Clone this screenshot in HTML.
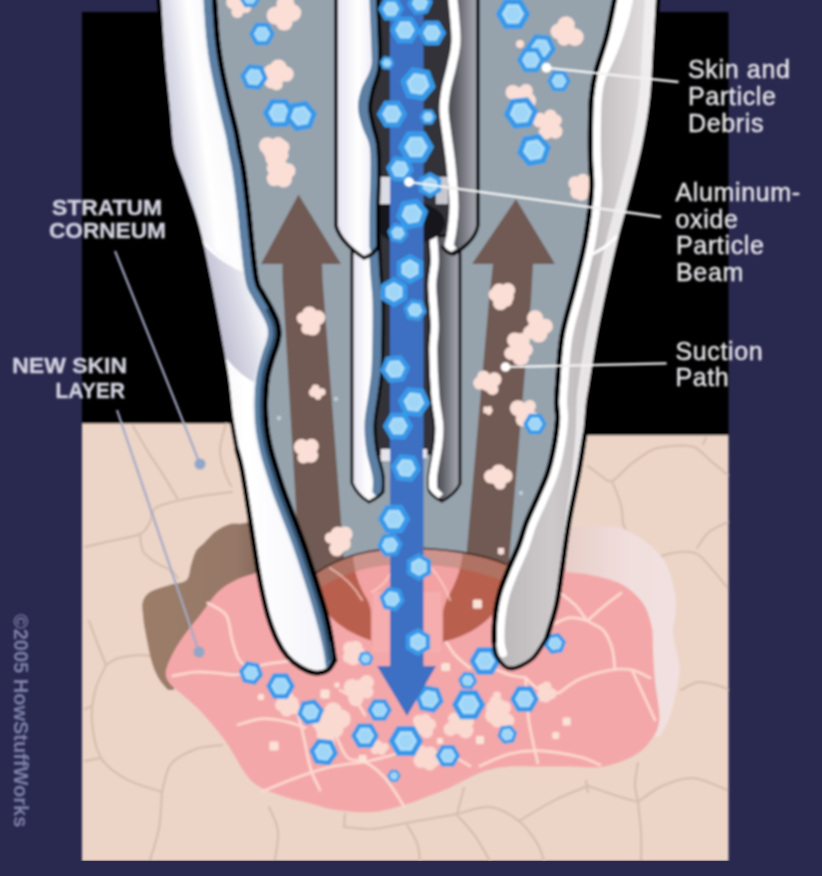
<!DOCTYPE html>
<html lang="en"><head><meta charset="utf-8"><title>Microdermabrasion</title>
<style>
html,body{margin:0;padding:0;background:#29284f;}
body{width:822px;height:876px;overflow:hidden;}
svg{display:block;}
.lab{font-family:"Liberation Sans",sans-serif;font-size:25px;fill:#e4e4e8;letter-spacing:0.65px;stroke:#e4e4e8;stroke-width:0.5px;}
.labl{font-family:"Liberation Sans",sans-serif;font-weight:bold;font-size:22.5px;fill:#d2d2e0;stroke:#d2d2e0;stroke-width:0.4px;}
.copy{font-family:"Liberation Sans",sans-serif;font-weight:bold;font-size:20px;fill:#8083aa;}
</style></head><body>
<svg width="822" height="876" viewBox="0 0 822 876">
<defs>
<filter id="soft" x="-5%" y="-5%" width="110%" height="110%"><feGaussianBlur stdDeviation="0.9"/></filter>
<filter id="soft2" x="-5%" y="-5%" width="110%" height="110%"><feGaussianBlur stdDeviation="1.1"/></filter>
<linearGradient id="gLW" x1="0" y1="0" x2="1" y2="0">
<stop offset="0" stop-color="#e9e8f2"/><stop offset="0.5" stop-color="#ffffff"/><stop offset="1" stop-color="#f4f3fa"/></linearGradient>
<linearGradient id="gRW" x1="0" y1="0" x2="1" y2="0">
<stop offset="0" stop-color="#bab6b8"/><stop offset="0.35" stop-color="#cdc9cb"/><stop offset="0.6" stop-color="#bebabc"/><stop offset="0.8" stop-color="#d4d0d2"/><stop offset="1" stop-color="#e6e4e6"/></linearGradient>
<linearGradient id="gSL" x1="0" y1="0" x2="1" y2="0">
<stop offset="0" stop-color="#e4e2f0"/><stop offset="0.5" stop-color="#ffffff"/><stop offset="1" stop-color="#e6e4f2"/></linearGradient>
<linearGradient id="gSR" x1="0" y1="0" x2="1" y2="0">
<stop offset="0" stop-color="#3e3e46"/><stop offset="0.35" stop-color="#5c5c64"/><stop offset="0.8" stop-color="#9698a0"/><stop offset="1" stop-color="#a0a4ae"/></linearGradient>
<linearGradient id="gPale" x1="0" y1="0" x2="1" y2="0">
<stop offset="0" stop-color="#e6cdc6"/><stop offset="0.6" stop-color="#f1dfde"/><stop offset="1" stop-color="#f1e1e0"/></linearGradient>
<linearGradient id="gBrown" x1="0" y1="0" x2="1" y2="0">
<stop offset="0" stop-color="#9c7d68"/><stop offset="0.7" stop-color="#967868"/><stop offset="1" stop-color="#7a6055"/></linearGradient>
<linearGradient id="gLWtop" gradientUnits="userSpaceOnUse" x1="160" y1="100" x2="225" y2="92">
<stop offset="0" stop-color="#c4c4d6"/><stop offset="0.3" stop-color="#dedeea"/><stop offset="0.6" stop-color="#ffffff"/><stop offset="1" stop-color="#ffffff" stop-opacity="0"/></linearGradient>
<linearGradient id="gLWlow" gradientUnits="userSpaceOnUse" x1="210" y1="305" x2="262" y2="292">
<stop offset="0" stop-color="#bcbcd0"/><stop offset="0.55" stop-color="#dcdce8"/><stop offset="1" stop-color="#ffffff"/></linearGradient>
</defs>
<rect x="0" y="0" width="822" height="876" fill="#29284f"/>
<g filter="url(#soft)">

<rect x="82" y="12" width="646.500" height="440" fill="#000"/>
<path d="M82,423.500 L260,423.500 L260,440 L560,440 L560,435.200 L728.500,435.200 L728.500,861 L82,861 Z" fill="#ecd5c7"/>
<path d="M85.0,547.0 C89.2,546.0 100.8,543.2 110.0,541.0 C119.2,538.8 133.3,537.2 140.0,534.0 C146.7,530.8 147.2,526.5 150.0,522.0 C152.8,517.5 149.5,511.2 157.0,507.0 C164.5,502.8 182.5,499.5 195.0,497.0 C207.5,494.5 225.8,492.8 232.0,492.0 " fill="none" stroke="#d9c0b0" stroke-width="2.5" stroke-linecap="round"/>
<path d="M133.0,426.0 C135.8,430.8 145.2,447.2 150.0,455.0 C154.8,462.8 157.5,465.8 162.0,473.0 C166.5,480.2 174.5,493.8 177.0,498.0 " fill="none" stroke="#d9c0b0" stroke-width="2.5" stroke-linecap="round"/>
<path d="M226.0,424.0 C225.0,428.2 220.3,441.3 220.0,449.0 C219.7,456.7 222.2,463.8 224.0,470.0 C225.8,476.2 229.8,483.3 231.0,486.0 " fill="none" stroke="#d9c0b0" stroke-width="2.5" stroke-linecap="round"/>
<path d="M140.0,534.0 C140.5,536.8 140.5,546.3 143.0,551.0 C145.5,555.7 150.5,558.8 155.0,562.0 C159.5,565.2 166.2,567.3 170.0,570.0 C173.8,572.7 176.7,576.7 178.0,578.0 " fill="none" stroke="#d9c0b0" stroke-width="2.5" stroke-linecap="round"/>
<path d="M89.0,621.0 C90.5,625.0 95.2,637.7 98.0,645.0 C100.8,652.3 104.7,661.7 106.0,665.0 " fill="none" stroke="#d9c0b0" stroke-width="2.5" stroke-linecap="round"/>
<path d="M106.0,665.0 C108.2,663.8 113.2,659.7 119.0,658.0 C124.8,656.3 135.8,655.3 141.0,655.0 C146.2,654.7 148.5,655.8 150.0,656.0 " fill="none" stroke="#d9c0b0" stroke-width="2.5" stroke-linecap="round"/>
<path d="M106.0,665.0 C104.2,669.3 97.3,681.5 95.0,691.0 C92.7,700.5 91.0,710.8 92.0,722.0 C93.0,733.2 95.3,748.5 101.0,758.0 C106.7,767.5 115.8,773.3 126.0,779.0 C136.2,784.7 156.0,789.8 162.0,792.0 " fill="none" stroke="#d9c0b0" stroke-width="2.5" stroke-linecap="round"/>
<path d="M162.0,792.0 C163.5,787.3 165.3,771.2 171.0,764.0 C176.7,756.8 187.5,752.2 196.0,749.0 C204.5,745.8 217.7,745.7 222.0,745.0 " fill="none" stroke="#d9c0b0" stroke-width="2.5" stroke-linecap="round"/>
<path d="M162.0,792.0 C161.5,798.0 161.0,816.7 159.0,828.0 C157.0,839.3 151.5,854.7 150.0,860.0 " fill="none" stroke="#d9c0b0" stroke-width="2.5" stroke-linecap="round"/>
<path d="M85.0,709.0 C86.2,708.5 90.8,706.5 92.0,706.0 " fill="none" stroke="#d9c0b0" stroke-width="2.5" stroke-linecap="round"/>
<path d="M85.0,761.0 C87.7,760.5 98.3,758.5 101.0,758.0 " fill="none" stroke="#d9c0b0" stroke-width="2.5" stroke-linecap="round"/>
<path d="M269.0,807.0 C270.5,811.0 277.0,822.2 278.0,831.0 C279.0,839.8 275.5,855.2 275.0,860.0 " fill="none" stroke="#d9c0b0" stroke-width="2.5" stroke-linecap="round"/>
<path d="M588.0,466.0 C590.0,467.5 596.0,472.5 600.0,475.0 C604.0,477.5 607.0,482.7 612.0,481.0 C617.0,479.3 623.3,470.2 630.0,465.0 C636.7,459.8 645.0,453.2 652.0,450.0 C659.0,446.8 665.0,446.5 672.0,446.0 C679.0,445.5 687.3,444.3 694.0,447.0 C700.7,449.7 706.3,457.3 712.0,462.0 C717.7,466.7 725.3,472.8 728.0,475.0 " fill="none" stroke="#d9c0b0" stroke-width="2.5" stroke-linecap="round"/>
<path d="M612.0,481.0 C613.5,485.0 619.0,497.5 621.0,505.0 C623.0,512.5 621.5,518.8 624.0,526.0 C626.5,533.2 634.0,544.3 636.0,548.0 " fill="none" stroke="#d9c0b0" stroke-width="2.5" stroke-linecap="round"/>
<path d="M703.0,444.0 C703.5,443.0 705.5,439.0 706.0,438.0 " fill="none" stroke="#d9c0b0" stroke-width="2.5" stroke-linecap="round"/>
<path d="M658.0,557.0 C661.5,556.2 672.5,552.5 679.0,552.0 C685.5,551.5 691.5,551.2 697.0,554.0 C702.5,556.8 707.0,563.5 712.0,569.0 C717.0,574.5 724.5,584.0 727.0,587.0 " fill="none" stroke="#d9c0b0" stroke-width="2.5" stroke-linecap="round"/>
<path d="M697.0,548.0 C699.0,545.3 703.8,536.3 709.0,532.0 C714.2,527.7 724.8,523.7 728.0,522.0 " fill="none" stroke="#d9c0b0" stroke-width="2.5" stroke-linecap="round"/>
<path d="M681.0,690.0 C684.0,688.7 692.0,682.5 699.0,682.0 C706.0,681.5 718.2,685.7 723.0,687.0 C727.8,688.3 727.2,689.5 728.0,690.0 " fill="none" stroke="#d9c0b0" stroke-width="2.5" stroke-linecap="round"/>
<path d="M638.0,763.0 C637.5,766.5 635.0,777.5 635.0,784.0 C635.0,790.5 637.5,799.0 638.0,802.0 " fill="none" stroke="#d9c0b0" stroke-width="2.5" stroke-linecap="round"/>
<path d="M638.0,802.0 C642.0,799.3 652.8,790.0 662.0,786.0 C671.2,782.0 682.2,777.3 693.0,778.0 C703.8,778.7 721.3,788.0 727.0,790.0 " fill="none" stroke="#d9c0b0" stroke-width="2.5" stroke-linecap="round"/>
<path d="M638.0,802.0 C638.5,807.2 640.5,823.3 641.0,833.0 C641.5,842.7 641.0,855.5 641.0,860.0 " fill="none" stroke="#d9c0b0" stroke-width="2.5" stroke-linecap="round"/>
<path d="M638.0,802.0 C634.0,800.8 622.3,797.7 614.0,795.0 C605.7,792.3 592.3,787.5 588.0,786.0 " fill="none" stroke="#d9c0b0" stroke-width="2.5" stroke-linecap="round"/>
<path d="M586.0,781.0 C586.3,782.8 587.7,790.2 588.0,792.0 " fill="none" stroke="#d9c0b0" stroke-width="2.5" stroke-linecap="round"/>
<path d="M344.0,827.0 C348.8,827.3 362.7,829.7 373.0,829.0 C383.3,828.3 392.0,825.5 406.0,823.0 C420.0,820.5 448.5,815.5 457.0,814.0 " fill="none" stroke="#d9c0b0" stroke-width="2.5" stroke-linecap="round"/>
<path d="M457.0,814.0 C458.2,809.7 462.8,792.3 464.0,788.0 " fill="none" stroke="#d9c0b0" stroke-width="2.5" stroke-linecap="round"/>
<path d="M457.0,814.0 C462.5,812.8 479.7,805.8 490.0,807.0 C500.3,808.2 511.2,815.0 519.0,821.0 C526.8,827.0 532.8,836.3 537.0,843.0 C541.2,849.7 542.8,858.0 544.0,861.0 " fill="none" stroke="#d9c0b0" stroke-width="2.5" stroke-linecap="round"/>
<path d="M519.0,821.0 C525.0,817.5 543.5,805.8 555.0,800.0 C566.5,794.2 582.5,788.3 588.0,786.0 " fill="none" stroke="#d9c0b0" stroke-width="2.5" stroke-linecap="round"/>
<path d="M406.0,823.0 C407.8,826.3 414.7,836.7 417.0,843.0 C419.3,849.3 419.5,858.0 420.0,861.0 " fill="none" stroke="#d9c0b0" stroke-width="2.5" stroke-linecap="round"/>
<path d="M457.0,815.0 C460.0,818.5 469.5,828.3 475.0,836.0 C480.5,843.7 487.5,856.8 490.0,861.0 " fill="none" stroke="#d9c0b0" stroke-width="2.5" stroke-linecap="round"/>
<path d="M344.0,827.0 C344.2,824.8 344.8,816.2 345.0,814.0 " fill="none" stroke="#d9c0b0" stroke-width="2.5" stroke-linecap="round"/>
<path d="M268.0,515.0 C264.2,516.3 251.3,521.5 245.0,523.0 C238.7,524.5 234.8,522.7 230.0,524.0 C225.2,525.3 220.4,527.8 216.0,531.0 C211.6,534.2 206.8,540.2 203.5,543.5 C200.2,546.8 198.1,547.4 196.0,551.0 C193.9,554.6 192.6,560.2 191.0,565.0 C189.4,569.8 190.1,576.7 186.5,580.0 C182.9,583.3 175.6,583.0 169.5,585.0 C163.4,587.0 154.5,589.2 150.0,592.0 C145.5,594.8 143.9,598.2 142.7,602.0 C141.5,605.8 142.6,610.3 143.0,615.0 C143.4,619.7 143.6,622.3 145.0,630.0 C146.4,637.7 149.2,652.8 151.5,661.0 C153.8,669.2 156.2,674.2 159.0,679.0 C161.8,683.8 166.5,688.2 168.0,690.0 L174,690 L175,661 L186,640 L208,615 L240,590 L275,575 Z" fill="url(#gBrown)"/>
<path d="M560.0,526.0 C566.7,526.1 589.8,526.2 600.0,526.5 C610.2,526.8 613.4,525.5 621.0,528.0 C628.6,530.5 638.5,536.4 645.6,541.7 C652.7,547.0 659.2,553.0 663.8,560.0 C668.4,567.0 671.0,575.9 673.0,584.0 C675.0,592.1 676.0,600.4 676.0,608.6 C676.0,616.8 672.5,623.9 673.0,633.0 C673.5,642.1 678.0,656.0 679.0,663.0 C680.0,670.0 679.7,669.0 679.0,675.0 C678.3,681.0 676.4,691.5 674.6,699.0 C672.9,706.5 670.9,713.8 668.5,720.0 C666.1,726.2 661.4,733.3 660.0,736.0 L640,740 L640,600 L560,575 Z" fill="url(#gPale)"/>
<path d="M566.0,572.0 C570.2,572.5 581.8,573.0 591.0,575.0 C600.2,577.0 612.4,579.4 621.0,584.0 C629.6,588.6 637.4,595.4 642.5,602.5 C647.6,609.6 650.0,618.9 651.7,626.8 C653.5,634.7 652.5,641.0 653.0,650.0 C653.5,659.0 653.9,669.3 655.0,681.0 C656.1,692.7 660.2,709.9 659.4,720.0 C658.6,730.1 654.6,735.4 650.0,741.6 C645.4,747.8 640.1,752.8 632.0,757.0 C623.9,761.2 611.8,765.4 601.6,767.0 C591.4,768.6 581.1,766.6 571.0,766.5 C560.9,766.4 551.2,766.5 541.0,766.5 C530.8,766.5 519.3,765.8 510.0,766.5 C500.7,767.2 492.8,768.6 485.0,771.0 C477.2,773.4 469.5,777.9 463.0,781.0 C456.5,784.1 452.5,786.7 446.0,789.5 C439.5,792.3 430.2,795.7 424.0,798.0 C417.8,800.3 417.3,801.2 409.0,803.5 C400.7,805.8 386.2,810.9 374.0,812.0 C361.8,813.1 346.5,811.4 336.0,810.0 C325.5,808.6 320.7,806.4 311.0,803.8 C301.3,801.2 287.9,798.7 277.7,794.6 C267.5,790.5 258.6,788.2 250.0,779.4 C241.4,770.6 233.8,752.9 226.0,742.0 C218.2,731.1 209.8,721.5 203.0,714.0 C196.2,706.5 190.2,701.7 185.0,697.0 C179.8,692.3 175.2,689.5 172.0,686.0 C168.8,682.5 166.7,679.7 166.0,676.0 C165.3,672.3 166.2,669.0 168.0,664.0 C169.8,659.0 173.5,651.8 177.0,646.0 C180.5,640.2 185.0,634.3 189.0,629.0 C193.0,623.7 196.2,620.2 201.0,614.0 C205.8,607.8 212.2,597.7 218.0,592.0 C223.8,586.3 229.7,583.2 236.0,580.0 C242.3,576.8 252.7,574.2 256.0,573.0 L256,540 L566,540 Z" fill="#f4a7a9"/>
<path d="M207.7,603.0 C210.8,605.0 221.9,608.9 226.0,615.0 C230.1,621.1 230.0,632.4 232.0,639.5 C234.0,646.6 236.0,653.5 238.0,657.8 C240.0,662.0 241.7,662.6 244.0,665.0 C246.3,667.4 250.7,670.8 252.0,672.0 " fill="none" stroke="#fcd9d0" stroke-width="2.7" stroke-linecap="round"/>
<path d="M172.8,676.0 C176.6,675.3 188.2,672.5 195.6,672.0 C202.9,671.5 209.8,672.6 216.9,673.0 C224.0,673.4 230.4,675.8 238.0,674.5 C245.6,673.2 253.3,667.3 262.5,665.0 C271.7,662.7 287.9,661.5 293.0,660.8 " fill="none" stroke="#fcd9d0" stroke-width="2.7" stroke-linecap="round"/>
<path d="M238.0,724.7 C242.1,723.7 254.4,719.1 262.5,718.6 C270.6,718.1 279.7,720.1 286.8,721.6 C293.9,723.1 302.0,726.7 305.0,727.7 " fill="none" stroke="#fcd9d0" stroke-width="2.7" stroke-linecap="round"/>
<path d="M293.0,700.0 C294.2,703.7 298.0,714.8 300.0,722.0 C302.0,729.2 303.2,735.0 305.0,743.0 C306.8,751.0 308.5,762.2 311.0,770.0 C313.5,777.8 318.5,786.7 320.0,790.0 " fill="none" stroke="#fcd9d0" stroke-width="2.7" stroke-linecap="round"/>
<path d="M262.5,791.6 C267.6,789.5 281.8,783.1 293.0,779.0 C304.2,774.9 318.0,769.8 330.0,767.0 C342.0,764.2 359.2,762.8 365.0,762.0 " fill="none" stroke="#fcd9d0" stroke-width="2.7" stroke-linecap="round"/>
<path d="M330.0,718.0 C331.3,721.7 335.0,733.3 338.0,740.0 C341.0,746.7 343.5,754.3 348.0,758.0 C352.5,761.7 358.8,758.7 365.0,762.0 C371.2,765.3 378.5,770.7 385.0,778.0 C391.5,785.3 400.8,801.3 404.0,806.0 " fill="none" stroke="#fcd9d0" stroke-width="2.7" stroke-linecap="round"/>
<path d="M365.0,762.0 C368.3,761.2 378.3,758.7 385.0,757.0 C391.7,755.3 397.5,752.8 405.0,752.0 C412.5,751.2 421.7,751.0 430.0,752.0 C438.3,753.0 448.3,755.7 455.0,758.0 C461.7,760.3 467.5,764.7 470.0,766.0 " fill="none" stroke="#fcd9d0" stroke-width="2.7" stroke-linecap="round"/>
<path d="M404.0,740.0 C404.7,741.3 406.7,746.0 408.0,748.0 C409.3,750.0 411.3,751.3 412.0,752.0 " fill="none" stroke="#fcd9d0" stroke-width="2.7" stroke-linecap="round"/>
<path d="M560.4,593.0 C562.9,595.1 571.0,600.9 575.6,605.5 C580.2,610.1 583.2,616.6 587.8,620.7 C592.4,624.8 599.0,625.5 603.0,630.0 C607.0,634.5 610.0,641.4 612.0,648.0 C614.0,654.6 614.5,665.8 615.0,669.4 " fill="none" stroke="#fcd9d0" stroke-width="2.7" stroke-linecap="round"/>
<path d="M587.8,620.7 C590.3,618.4 597.5,611.6 603.0,607.0 C608.5,602.4 618.0,595.3 621.0,593.0 " fill="none" stroke="#fcd9d0" stroke-width="2.7" stroke-linecap="round"/>
<path d="M548.0,627.0 C551.6,625.5 562.9,618.8 569.5,617.7 C576.1,616.7 584.8,620.2 587.8,620.7 " fill="none" stroke="#fcd9d0" stroke-width="2.7" stroke-linecap="round"/>
<path d="M559.0,693.0 C562.5,690.7 571.4,682.8 580.0,679.0 C588.6,675.2 602.1,671.5 610.8,670.0 C619.5,668.5 625.5,668.7 632.0,670.0 C638.5,671.3 647.0,676.5 650.0,677.8 " fill="none" stroke="#fcd9d0" stroke-width="2.7" stroke-linecap="round"/>
<path d="M632.0,670.0 C634.0,674.3 640.2,687.7 644.0,696.0 C647.8,704.3 653.2,716.0 655.0,720.0 " fill="none" stroke="#fcd9d0" stroke-width="2.7" stroke-linecap="round"/>
<path d="M525.6,677.8 C526.1,684.8 526.7,705.8 528.7,720.0 C530.7,734.2 536.3,755.8 537.8,763.0 " fill="none" stroke="#fcd9d0" stroke-width="2.7" stroke-linecap="round"/>
<path d="M480.0,766.0 C485.0,764.0 499.8,756.3 510.0,753.8 C520.2,751.3 529.3,750.3 541.0,750.8 C552.7,751.3 570.2,754.6 580.0,757.0 C589.8,759.4 596.7,763.7 600.0,765.0 " fill="none" stroke="#fcd9d0" stroke-width="2.7" stroke-linecap="round"/>
<path d="M525.6,677.8 C528.0,679.8 534.4,687.5 540.0,690.0 C545.6,692.5 555.8,692.5 559.0,693.0 " fill="none" stroke="#fcd9d0" stroke-width="2.7" stroke-linecap="round"/>
<path d="M497.0,670.0 C499.2,670.8 505.2,673.7 510.0,675.0 C514.8,676.3 523.0,677.3 525.6,677.8 " fill="none" stroke="#fcd9d0" stroke-width="2.7" stroke-linecap="round"/>
<path d="M330.0,566.0 C332.5,567.5 340.8,571.8 345.0,575.0 C349.2,578.2 352.5,581.2 355.0,585.0 C357.5,588.8 359.2,595.8 360.0,598.0 " fill="none" stroke="#fcd9d0" stroke-width="2.7" stroke-linecap="round"/>
<path d="M450.0,600.0 C451.3,599.2 454.7,596.7 458.0,595.0 C461.3,593.3 466.3,591.2 470.0,590.0 C473.7,588.8 478.3,588.3 480.0,588.0 " fill="none" stroke="#fcd9d0" stroke-width="2.7" stroke-linecap="round"/>
<path d="M445.0,640.0 C446.7,642.5 450.8,650.3 455.0,655.0 C459.2,659.7 467.5,665.8 470.0,668.0 " fill="none" stroke="#fcd9d0" stroke-width="2.7" stroke-linecap="round"/>
<path d="M340.0,690.0 C342.5,691.7 350.8,695.8 355.0,700.0 C359.2,704.2 363.3,712.5 365.0,715.0 " fill="none" stroke="#fcd9d0" stroke-width="2.7" stroke-linecap="round"/>
<path d="M187,-6 L203,130 L237,292 L246,425 L275,520 L296,588 L316,573 C345,553 380,548 407,548 C440,548 480,553 506,564 L530,580 L545,538 L571,435 L591,292 L615,150 L642,-6 Z" fill="#96a3ad"/>
<path d="M298.5,194.5 L341,264 L322,264 L322.6,280 L345.5,580 L301,592 L282.5,280 L282.5,264 L261,264 Z" fill="#6f5a53"/>
<path d="M516,199 L555,264 L533,264 L531,300 L508,572 L466,560 L489,300 L493,264 L472,264 Z" fill="#6f5a53"/>
<path d="M316,573 C345,553 380,548 407,548 C440,548 480,553 506,564 C512,590 500,615 470,632 C450,642 430,646 410,646 C385,646 360,640 340,625 C320,610 312,590 316,573 Z" fill="#b8604d"/>
<path d="M353,556 C354,570 358,585 367,599 C370,605 371,610 371,614 L371,646 L443,646 L443,612 C444,606 446,602 447,599 C455,585 461,570 463,553 C440,548 380,548 353,556 Z" fill="#f3a2a3"/>
<rect x="373" y="592" width="68" height="60" fill="#f6adad"/>
<path d="M312,576 C345,553 380,548 407,548 C440,548 480,553 510,568 L510,584 C480,570 440,564 407,564 C380,564 345,570 314,592 Z" fill="#a88478" opacity="0.5"/>
<path d="M316,573 C345,553 380,548 407,548 C440,548 480,553 506,564" fill="none" stroke="#3a2622" stroke-width="1.6"/>
<path d="M420,556 C435,570 445,585 450,600" fill="none" stroke="#fbd3cb" stroke-width="2" stroke-linecap="round" opacity="0.7"/>
<path d="M330,568 C345,577 355,587 362,600" fill="none" stroke="#fbd3cb" stroke-width="2" stroke-linecap="round" opacity="0.7"/>
<path d="M395,560 C392,575 385,585 372,592" fill="none" stroke="#fbd3cb" stroke-width="2" stroke-linecap="round" opacity="0.7"/>
<circle cx="355.5" cy="647.5" r="6.8" fill="#fad9d0"/><circle cx="359.4" cy="652.1" r="5.2" fill="#fad9d0"/><circle cx="361.3" cy="656.9" r="6.6" fill="#fad9d0"/><circle cx="353.2" cy="658.5" r="6.7" fill="#fad9d0"/><circle cx="349.1" cy="657.2" r="6.2" fill="#fad9d0"/><circle cx="349.7" cy="648.1" r="6.6" fill="#fad9d0"/><circle cx="354" cy="653" r="7.8" fill="#fad9d0"/>
<circle cx="355.9" cy="698.6" r="7.6" fill="#fad9d0"/><circle cx="351.7" cy="687.2" r="8.1" fill="#fad9d0"/><circle cx="366.7" cy="682.3" r="7.2" fill="#fad9d0"/><circle cx="367.0" cy="692.0" r="6.5" fill="#fad9d0"/><circle cx="360" cy="689" r="9.6" fill="#fad9d0"/>
<circle cx="288.2" cy="697.9" r="6.0" fill="#fad9d0"/><circle cx="293.4" cy="701.7" r="4.9" fill="#fad9d0"/><circle cx="293.7" cy="707.8" r="6.4" fill="#fad9d0"/><circle cx="286.6" cy="710.2" r="6.4" fill="#fad9d0"/><circle cx="280.9" cy="705.1" r="5.9" fill="#fad9d0"/><circle cx="283.1" cy="700.0" r="5.9" fill="#fad9d0"/><circle cx="288" cy="703" r="7.2" fill="#fad9d0"/>
<circle cx="324.0" cy="727.6" r="8.8" fill="#fad9d0"/><circle cx="320.5" cy="720.6" r="9.4" fill="#fad9d0"/><circle cx="333.2" cy="711.2" r="8.9" fill="#fad9d0"/><circle cx="341.5" cy="718.9" r="9.3" fill="#fad9d0"/><circle cx="335.3" cy="729.5" r="8.2" fill="#fad9d0"/><circle cx="331" cy="722" r="10.2" fill="#fad9d0"/>
<circle cx="330.5" cy="740.1" r="4.4" fill="#fad9d0"/><circle cx="330.6" cy="744.5" r="4.6" fill="#fad9d0"/><circle cx="323.5" cy="744.5" r="5.6" fill="#fad9d0"/><circle cx="321.4" cy="735.4" r="4.6" fill="#fad9d0"/><circle cx="325.2" cy="734.9" r="5.1" fill="#fad9d0"/><circle cx="326" cy="740" r="6.0" fill="#fad9d0"/>
<circle cx="430.2" cy="724.4" r="5.9" fill="#fad9d0"/><circle cx="426.7" cy="731.8" r="6.4" fill="#fad9d0"/><circle cx="417.8" cy="729.7" r="5.8" fill="#fad9d0"/><circle cx="419.0" cy="720.7" r="6.0" fill="#fad9d0"/><circle cx="425.4" cy="719.3" r="5.5" fill="#fad9d0"/><circle cx="424" cy="725" r="7.8" fill="#fad9d0"/>
<circle cx="421.0" cy="760.5" r="7.5" fill="#fad9d0"/><circle cx="422.0" cy="752.0" r="6.4" fill="#fad9d0"/><circle cx="430.4" cy="752.5" r="6.1" fill="#fad9d0"/><circle cx="434.4" cy="758.6" r="7.5" fill="#fad9d0"/><circle cx="429.8" cy="763.4" r="7.0" fill="#fad9d0"/><circle cx="427" cy="757" r="7.8" fill="#fad9d0"/>
<circle cx="465.6" cy="730.6" r="7.8" fill="#fad9d0"/><circle cx="450.4" cy="729.3" r="6.8" fill="#fad9d0"/><circle cx="454.4" cy="719.0" r="6.4" fill="#fad9d0"/><circle cx="465.7" cy="720.8" r="8.4" fill="#fad9d0"/><circle cx="458" cy="725" r="9.0" fill="#fad9d0"/>
<circle cx="504.3" cy="707.8" r="6.7" fill="#fad9d0"/><circle cx="507.7" cy="720.4" r="6.7" fill="#fad9d0"/><circle cx="497.3" cy="721.0" r="6.5" fill="#fad9d0"/><circle cx="493.2" cy="715.3" r="8.2" fill="#fad9d0"/><circle cx="494.7" cy="708.1" r="8.5" fill="#fad9d0"/><circle cx="500" cy="715" r="9.0" fill="#fad9d0"/>
<circle cx="551.0" cy="693.6" r="5.7" fill="#fad9d0"/><circle cx="545.8" cy="696.7" r="5.7" fill="#fad9d0"/><circle cx="542.5" cy="695.7" r="6.1" fill="#fad9d0"/><circle cx="542.5" cy="688.8" r="5.1" fill="#fad9d0"/><circle cx="546.5" cy="686.5" r="4.9" fill="#fad9d0"/><circle cx="546" cy="692" r="6.6" fill="#fad9d0"/>
<circle cx="493.6" cy="699.8" r="3.4" fill="#fad9d0"/><circle cx="497.0" cy="695.5" r="4.0" fill="#fad9d0"/><circle cx="500.1" cy="702.0" r="3.3" fill="#fad9d0"/><circle cx="497.0" cy="703.8" r="3.0" fill="#fad9d0"/><circle cx="497" cy="700" r="4.2" fill="#fad9d0"/>
<circle cx="381.8" cy="751.0" r="3.9" fill="#fad9d0"/><circle cx="375.2" cy="749.7" r="4.5" fill="#fad9d0"/><circle cx="377.8" cy="744.4" r="4.2" fill="#fad9d0"/><circle cx="384.6" cy="747.1" r="4.2" fill="#fad9d0"/><circle cx="380" cy="748" r="4.8" fill="#fad9d0"/>
<rect x="258" y="694" width="6" height="6" rx="1.5" fill="#fbe2d8"/>
<rect x="269.5" y="741.5" width="9.0" height="9.0" rx="1.5" fill="#fbe2d8"/>
<rect x="320.5" y="689.5" width="9.0" height="9.0" rx="1.5" fill="#fbe2d8"/>
<rect x="358.6" y="755" width="8" height="8" rx="1.5" fill="#fbe2d8"/>
<rect x="334.5" y="682.5" width="5.0" height="5.0" rx="1.5" fill="#fbe2d8"/>
<rect x="472.9" y="599.5" width="9.0" height="9.0" rx="1.5" fill="#fbe2d8"/>
<rect x="562.7" y="717.5" width="8" height="8" rx="1.5" fill="#fbe2d8"/>
<rect x="552.2" y="731.9" width="7.0" height="7.0" rx="1.5" fill="#fbe2d8"/>
<rect x="476" y="736" width="8" height="8" rx="1.5" fill="#fbe2d8"/>
<rect x="437" y="738" width="6" height="6" rx="1.5" fill="#fbe2d8"/>
<rect x="442" y="663" width="8" height="8" rx="1.5" fill="#fbe2d8"/>
<rect x="441.1" y="663.5" width="7.0" height="7.0" rx="1.5" fill="#fbe2d8"/>
<polygon points="262.4,675.0 255.0,683.9 243.6,681.8 239.6,671.0 247.0,662.1 258.4,664.2" fill="#3497e9" stroke="#3a9deb" stroke-width="1.5" stroke-linejoin="round"/><polygon points="258.7,674.4 253.7,680.4 246.0,679.0 243.3,671.6 248.3,665.6 256.0,667.0" fill="#b4e1fa" stroke="#6cbbf2" stroke-width="1" stroke-linejoin="round"/><polygon points="256.7,674.0 253.0,678.4 247.3,677.4 245.3,672.0 249.0,667.6 254.7,668.6" fill="#9fd5f6"/>
<polygon points="294.2,686.0 287.4,697.9 273.6,697.9 266.8,686.0 273.6,674.1 287.4,674.1" fill="#3497e9" stroke="#3a9deb" stroke-width="1.5" stroke-linejoin="round"/><polygon points="289.9,686.0 285.2,694.1 275.8,694.1 271.1,686.0 275.8,677.9 285.2,677.9" fill="#b4e1fa" stroke="#6cbbf2" stroke-width="1" stroke-linejoin="round"/><polygon points="287.4,686.0 283.9,692.0 277.1,692.0 273.6,686.0 277.1,680.0 283.9,680.0" fill="#9fd5f6"/>
<polygon points="323.0,709.8 318.6,721.7 306.2,723.9 298.0,714.2 302.4,702.3 314.8,700.1" fill="#3497e9" stroke="#3a9deb" stroke-width="1.5" stroke-linejoin="round"/><polygon points="319.0,710.5 316.0,718.6 307.6,720.1 302.0,713.5 305.0,705.4 313.4,703.9" fill="#b4e1fa" stroke="#6cbbf2" stroke-width="1" stroke-linejoin="round"/><polygon points="316.7,710.9 314.6,716.8 308.3,717.9 304.3,713.1 306.4,707.2 312.7,706.1" fill="#9fd5f6"/>
<polygon points="378.2,735.6 371.6,747.0 358.4,747.0 351.8,735.6 358.4,724.2 371.6,724.2" fill="#3497e9" stroke="#3a9deb" stroke-width="1.5" stroke-linejoin="round"/><polygon points="374.0,735.6 369.5,743.4 360.5,743.4 356.0,735.6 360.5,727.8 369.5,727.8" fill="#b4e1fa" stroke="#6cbbf2" stroke-width="1" stroke-linejoin="round"/><polygon points="371.6,735.6 368.3,741.3 361.7,741.3 358.4,735.6 361.7,729.9 368.3,729.9" fill="#9fd5f6"/>
<polygon points="391.1,710.0 385.3,720.0 373.7,720.0 367.9,710.0 373.7,700.0 385.3,700.0" fill="#3497e9" stroke="#3a9deb" stroke-width="1.5" stroke-linejoin="round"/><polygon points="387.4,710.0 383.4,716.8 375.6,716.8 371.6,710.0 375.6,703.2 383.4,703.2" fill="#b4e1fa" stroke="#6cbbf2" stroke-width="1" stroke-linejoin="round"/><polygon points="385.3,710.0 382.4,715.0 376.6,715.0 373.7,710.0 376.6,705.0 382.4,705.0" fill="#9fd5f6"/>
<polygon points="422.3,741.0 414.1,755.3 397.6,755.3 389.3,741.0 397.6,726.7 414.1,726.7" fill="#3497e9" stroke="#3a9deb" stroke-width="1.5" stroke-linejoin="round"/><polygon points="417.0,741.0 411.4,750.7 400.2,750.7 394.6,741.0 400.2,731.3 411.4,731.3" fill="#b4e1fa" stroke="#6cbbf2" stroke-width="1" stroke-linejoin="round"/><polygon points="414.1,741.0 409.9,748.1 401.7,748.1 397.6,741.0 401.7,733.9 409.9,733.9" fill="#9fd5f6"/>
<polygon points="443.0,701.4 434.2,711.9 420.7,709.5 416.0,696.6 424.8,686.1 438.3,688.5" fill="#3497e9" stroke="#3a9deb" stroke-width="1.5" stroke-linejoin="round"/><polygon points="438.7,700.6 432.7,707.8 423.5,706.2 420.3,697.4 426.3,690.2 435.5,691.8" fill="#b4e1fa" stroke="#6cbbf2" stroke-width="1" stroke-linejoin="round"/><polygon points="436.3,700.2 431.9,705.5 425.1,704.3 422.7,697.8 427.1,692.5 433.9,693.7" fill="#9fd5f6"/>
<polygon points="484.6,704.6 476.6,718.4 460.6,718.4 452.7,704.6 460.6,690.8 476.6,690.8" fill="#3497e9" stroke="#3a9deb" stroke-width="1.5" stroke-linejoin="round"/><polygon points="479.4,704.6 474.0,714.0 463.2,714.0 457.8,704.6 463.2,695.2 474.0,695.2" fill="#b4e1fa" stroke="#6cbbf2" stroke-width="1" stroke-linejoin="round"/><polygon points="476.6,704.6 472.6,711.5 464.6,711.5 460.6,704.6 464.6,697.7 472.6,697.7" fill="#9fd5f6"/>
<polygon points="476.5,681.5 471.3,688.6 462.5,687.7 458.9,679.7 464.1,672.6 472.9,673.5" fill="#3497e9" stroke="#3a9deb" stroke-width="1.5" stroke-linejoin="round"/><polygon points="473.7,681.2 470.1,686.1 464.2,685.4 461.7,680.0 465.3,675.1 471.2,675.8" fill="#b4e1fa" stroke="#6cbbf2" stroke-width="1" stroke-linejoin="round"/><polygon points="472.1,681.1 469.5,684.6 465.1,684.2 463.3,680.1 465.9,676.6 470.3,677.0" fill="#9fd5f6"/>
<polygon points="499.9,661.0 492.4,673.9 477.6,673.9 470.1,661.0 477.6,648.1 492.4,648.1" fill="#3497e9" stroke="#3a9deb" stroke-width="1.5" stroke-linejoin="round"/><polygon points="495.1,661.0 490.0,669.7 480.0,669.7 474.9,661.0 480.0,652.3 490.0,652.3" fill="#b4e1fa" stroke="#6cbbf2" stroke-width="1" stroke-linejoin="round"/><polygon points="492.4,661.0 488.7,667.4 481.3,667.4 477.6,661.0 481.3,654.6 488.7,654.6" fill="#9fd5f6"/>
<polygon points="538.2,699.0 531.4,710.9 517.6,710.9 510.8,699.0 517.6,687.1 531.4,687.1" fill="#3497e9" stroke="#3a9deb" stroke-width="1.5" stroke-linejoin="round"/><polygon points="533.9,699.0 529.2,707.1 519.8,707.1 515.1,699.0 519.8,690.9 529.2,690.9" fill="#b4e1fa" stroke="#6cbbf2" stroke-width="1" stroke-linejoin="round"/><polygon points="531.4,699.0 527.9,705.0 521.1,705.0 517.6,699.0 521.1,693.0 527.9,693.0" fill="#9fd5f6"/>
<polygon points="516.5,732.9 513.3,741.7 504.1,743.3 498.1,736.1 501.3,727.3 510.5,725.7" fill="#3497e9" stroke="#3a9deb" stroke-width="1.5" stroke-linejoin="round"/><polygon points="513.6,733.4 511.4,739.4 505.1,740.5 501.0,735.6 503.2,729.6 509.5,728.5" fill="#b4e1fa" stroke="#6cbbf2" stroke-width="1" stroke-linejoin="round"/><polygon points="511.9,733.7 510.3,738.1 505.7,738.9 502.7,735.3 504.3,730.9 508.9,730.1" fill="#9fd5f6"/>
<polygon points="372.7,657.4 370.3,664.1 363.3,665.3 358.7,659.8 361.1,653.1 368.1,651.9" fill="#3497e9" stroke="#3a9deb" stroke-width="1.5" stroke-linejoin="round"/><polygon points="370.5,657.8 368.8,662.3 364.0,663.2 360.9,659.4 362.6,654.9 367.4,654.0" fill="#b4e1fa" stroke="#6cbbf2" stroke-width="1" stroke-linejoin="round"/><polygon points="369.2,658.0 368.0,661.3 364.5,662.0 362.2,659.2 363.4,655.9 366.9,655.2" fill="#9fd5f6"/>
<polygon points="400.1,775.8 397.0,781.0 391.0,781.0 387.9,775.8 391.0,770.6 397.0,770.6" fill="#3497e9" stroke="#3a9deb" stroke-width="1.5" stroke-linejoin="round"/><polygon points="398.1,775.8 396.1,779.4 391.9,779.4 389.9,775.8 391.9,772.2 396.1,772.2" fill="#b4e1fa" stroke="#6cbbf2" stroke-width="1" stroke-linejoin="round"/><polygon points="397.0,775.8 395.5,778.4 392.5,778.4 391.0,775.8 392.5,773.2 395.5,773.2" fill="#9fd5f6"/>
<polygon points="337.4,753.4 329.3,764.6 315.6,763.1 310.0,750.6 318.1,739.4 331.8,740.9" fill="#3497e9" stroke="#3a9deb" stroke-width="1.5" stroke-linejoin="round"/><polygon points="333.0,753.0 327.5,760.5 318.2,759.6 314.4,751.0 319.9,743.5 329.2,744.4" fill="#b4e1fa" stroke="#6cbbf2" stroke-width="1" stroke-linejoin="round"/><polygon points="330.5,752.7 326.5,758.3 319.7,757.6 316.9,751.3 320.9,745.7 327.7,746.4" fill="#9fd5f6"/>
<polygon points="459.4,755.7 453.6,765.7 442.0,765.7 436.2,755.7 442.0,745.7 453.6,745.7" fill="#3497e9" stroke="#3a9deb" stroke-width="1.5" stroke-linejoin="round"/><polygon points="455.7,755.7 451.7,762.5 443.9,762.5 439.9,755.7 443.9,748.9 451.7,748.9" fill="#b4e1fa" stroke="#6cbbf2" stroke-width="1" stroke-linejoin="round"/><polygon points="453.6,755.7 450.7,760.7 444.9,760.7 442.0,755.7 444.9,750.7 450.7,750.7" fill="#9fd5f6"/>
<polygon points="565.3,641.7 561.7,651.5 551.4,653.3 544.7,645.3 548.3,635.5 558.6,633.7" fill="#3497e9" stroke="#3a9deb" stroke-width="1.5" stroke-linejoin="round"/><polygon points="562.0,642.3 559.6,648.9 552.6,650.2 548.0,644.7 550.4,638.1 557.4,636.8" fill="#b4e1fa" stroke="#6cbbf2" stroke-width="1" stroke-linejoin="round"/><polygon points="560.1,642.6 558.4,647.5 553.2,648.4 549.9,644.4 551.6,639.5 556.8,638.6" fill="#9fd5f6"/>
<circle cx="245.7" cy="7.6" r="5.4" fill="#fbdfd6"/><circle cx="237.3" cy="12.1" r="6.0" fill="#fbdfd6"/><circle cx="233.1" cy="2.4" r="6.9" fill="#fbdfd6"/><circle cx="244.2" cy="0.6" r="5.5" fill="#fbdfd6"/><circle cx="240" cy="6" r="7.8" fill="#fbdfd6"/>
<circle cx="285.5" cy="4.0" r="9.1" fill="#fbdfd6"/><circle cx="292.5" cy="12.8" r="8.7" fill="#fbdfd6"/><circle cx="284.2" cy="22.2" r="8.4" fill="#fbdfd6"/><circle cx="275.8" cy="15.5" r="9.1" fill="#fbdfd6"/><circle cx="285" cy="14" r="9.6" fill="#fbdfd6"/>
<circle cx="272.2" cy="79.9" r="8.7" fill="#fbdfd6"/><circle cx="271.2" cy="72.3" r="7.8" fill="#fbdfd6"/><circle cx="278.4" cy="67.9" r="8.5" fill="#fbdfd6"/><circle cx="286.2" cy="74.1" r="7.6" fill="#fbdfd6"/><circle cx="276.6" cy="84.2" r="6.1" fill="#fbdfd6"/><circle cx="277" cy="75" r="9.0" fill="#fbdfd6"/>
<circle cx="282.2" cy="147.3" r="7.3" fill="#fbdfd6"/><circle cx="282.0" cy="155.3" r="6.5" fill="#fbdfd6"/><circle cx="272.4" cy="158.8" r="7.0" fill="#fbdfd6"/><circle cx="269.1" cy="152.0" r="6.1" fill="#fbdfd6"/><circle cx="267.4" cy="145.6" r="8.4" fill="#fbdfd6"/><circle cx="278.0" cy="144.5" r="7.4" fill="#fbdfd6"/><circle cx="275.5" cy="151" r="9.0" fill="#fbdfd6"/>
<circle cx="274.2" cy="178.6" r="7.5" fill="#fbdfd6"/><circle cx="273.1" cy="168.2" r="6.3" fill="#fbdfd6"/><circle cx="280.6" cy="165.1" r="6.5" fill="#fbdfd6"/><circle cx="288.1" cy="170.7" r="7.4" fill="#fbdfd6"/><circle cx="283.6" cy="179.0" r="8.4" fill="#fbdfd6"/><circle cx="281" cy="173" r="9.0" fill="#fbdfd6"/>
<circle cx="574.9" cy="37.1" r="8.8" fill="#fbdfd6"/><circle cx="564.0" cy="39.2" r="6.6" fill="#fbdfd6"/><circle cx="558.3" cy="31.5" r="7.8" fill="#fbdfd6"/><circle cx="566.1" cy="25.0" r="8.7" fill="#fbdfd6"/><circle cx="566" cy="32" r="9.6" fill="#fbdfd6"/>
<circle cx="512.9" cy="92.3" r="7.4" fill="#fbdfd6"/><circle cx="526.0" cy="90.9" r="6.8" fill="#fbdfd6"/><circle cx="527.9" cy="100.8" r="8.1" fill="#fbdfd6"/><circle cx="517.6" cy="102.0" r="6.8" fill="#fbdfd6"/><circle cx="521" cy="96" r="9.0" fill="#fbdfd6"/>
<circle cx="555.7" cy="120.3" r="6.1" fill="#fbdfd6"/><circle cx="555.3" cy="131.5" r="7.2" fill="#fbdfd6"/><circle cx="545.6" cy="132.6" r="7.0" fill="#fbdfd6"/><circle cx="540.0" cy="120.2" r="7.4" fill="#fbdfd6"/><circle cx="550.5" cy="115.6" r="6.1" fill="#fbdfd6"/><circle cx="549" cy="124" r="9.0" fill="#fbdfd6"/>
<circle cx="589.5" cy="181.9" r="5.9" fill="#fbdfd6"/><circle cx="587.2" cy="188.9" r="7.0" fill="#fbdfd6"/><circle cx="581.6" cy="194.1" r="6.7" fill="#fbdfd6"/><circle cx="577.6" cy="192.0" r="7.3" fill="#fbdfd6"/><circle cx="575.2" cy="183.1" r="6.8" fill="#fbdfd6"/><circle cx="582.9" cy="179.9" r="6.1" fill="#fbdfd6"/><circle cx="582" cy="186" r="7.8" fill="#fbdfd6"/>
<polygon points="259.9,-2.0 254.9,6.6 245.1,6.6 240.1,-2.0 245.0,-10.6 254.9,-10.6" fill="#3497e9" stroke="#3a9deb" stroke-width="1.5" stroke-linejoin="round"/><polygon points="256.7,-2.0 253.4,3.8 246.6,3.8 243.3,-2.0 246.6,-7.8 253.4,-7.8" fill="#b4e1fa" stroke="#6cbbf2" stroke-width="1" stroke-linejoin="round"/><polygon points="254.9,-2.0 252.5,2.3 247.5,2.3 245.1,-2.0 247.5,-6.3 252.5,-6.3" fill="#9fd5f6"/>
<polygon points="274.1,34.0 268.1,44.5 255.9,44.5 249.9,34.0 255.9,23.5 268.1,23.5" fill="#3497e9" stroke="#3a9deb" stroke-width="1.5" stroke-linejoin="round"/><polygon points="270.2,34.0 266.1,41.1 257.9,41.1 253.8,34.0 257.9,26.9 266.1,26.9" fill="#b4e1fa" stroke="#6cbbf2" stroke-width="1" stroke-linejoin="round"/><polygon points="268.1,34.0 265.0,39.2 259.0,39.2 255.9,34.0 259.0,28.8 265.0,28.8" fill="#9fd5f6"/>
<polygon points="267.1,78.4 259.4,89.1 246.2,87.7 240.9,75.6 248.6,64.9 261.8,66.3" fill="#3497e9" stroke="#3a9deb" stroke-width="1.5" stroke-linejoin="round"/><polygon points="262.9,77.9 257.7,85.2 248.7,84.3 245.1,76.1 250.3,68.8 259.3,69.7" fill="#b4e1fa" stroke="#6cbbf2" stroke-width="1" stroke-linejoin="round"/><polygon points="260.6,77.7 256.7,83.0 250.1,82.3 247.4,76.3 251.3,71.0 257.9,71.7" fill="#9fd5f6"/>
<polygon points="294.4,113.0 286.7,126.3 271.3,126.3 263.6,113.0 271.3,99.7 286.7,99.7" fill="#3497e9" stroke="#3a9deb" stroke-width="1.5" stroke-linejoin="round"/><polygon points="289.5,113.0 284.2,122.1 273.8,122.1 268.5,113.0 273.8,103.9 284.2,103.9" fill="#b4e1fa" stroke="#6cbbf2" stroke-width="1" stroke-linejoin="round"/><polygon points="286.7,113.0 282.9,119.7 275.1,119.7 271.3,113.0 275.1,106.3 282.9,106.3" fill="#9fd5f6"/>
<polygon points="316.2,113.3 310.9,127.8 295.7,130.5 285.8,118.7 291.1,104.2 306.3,101.5" fill="#3497e9" stroke="#3a9deb" stroke-width="1.5" stroke-linejoin="round"/><polygon points="311.3,114.2 307.7,124.0 297.4,125.8 290.7,117.8 294.3,108.0 304.6,106.2" fill="#b4e1fa" stroke="#6cbbf2" stroke-width="1" stroke-linejoin="round"/><polygon points="308.6,114.7 305.9,121.9 298.4,123.2 293.4,117.3 296.1,110.1 303.6,108.8" fill="#9fd5f6"/>
<polygon points="529.5,14.0 521.2,28.3 504.8,28.3 496.5,14.0 504.8,-0.3 521.2,-0.3" fill="#3497e9" stroke="#3a9deb" stroke-width="1.5" stroke-linejoin="round"/><polygon points="524.2,14.0 518.6,23.7 507.4,23.7 501.8,14.0 507.4,4.3 518.6,4.3" fill="#b4e1fa" stroke="#6cbbf2" stroke-width="1" stroke-linejoin="round"/><polygon points="521.2,14.0 517.1,21.1 508.9,21.1 504.8,14.0 508.9,6.9 517.1,6.9" fill="#9fd5f6"/>
<polygon points="555.2,49.5 546.8,61.1 532.6,59.6 526.8,46.5 535.2,34.9 549.4,36.4" fill="#3497e9" stroke="#3a9deb" stroke-width="1.5" stroke-linejoin="round"/><polygon points="550.7,49.0 545.0,56.9 535.3,55.9 531.3,47.0 537.0,39.1 546.7,40.1" fill="#b4e1fa" stroke="#6cbbf2" stroke-width="1" stroke-linejoin="round"/><polygon points="548.1,48.7 543.9,54.5 536.8,53.8 533.9,47.3 538.1,41.5 545.2,42.2" fill="#9fd5f6"/>
<polygon points="544.2,60.0 537.6,71.4 524.4,71.4 517.8,60.0 524.4,48.6 537.6,48.6" fill="#3497e9" stroke="#3a9deb" stroke-width="1.5" stroke-linejoin="round"/><polygon points="540.0,60.0 535.5,67.8 526.5,67.8 522.0,60.0 526.5,52.2 535.5,52.2" fill="#b4e1fa" stroke="#6cbbf2" stroke-width="1" stroke-linejoin="round"/><polygon points="537.6,60.0 534.3,65.7 527.7,65.7 524.4,60.0 527.7,54.3 534.3,54.3" fill="#9fd5f6"/>
<polygon points="570.0,81.0 564.5,90.5 553.5,90.5 548.0,81.0 553.5,71.5 564.5,71.5" fill="#3497e9" stroke="#3a9deb" stroke-width="1.5" stroke-linejoin="round"/><polygon points="566.5,81.0 562.7,87.5 555.3,87.5 551.5,81.0 555.3,74.5 562.7,74.5" fill="#b4e1fa" stroke="#6cbbf2" stroke-width="1" stroke-linejoin="round"/><polygon points="564.5,81.0 561.8,85.8 556.2,85.8 553.5,81.0 556.2,76.2 561.8,76.2" fill="#9fd5f6"/>
<polygon points="537.4,111.3 530.7,126.3 514.3,128.1 504.6,114.7 511.3,99.7 527.7,97.9" fill="#3497e9" stroke="#3a9deb" stroke-width="1.5" stroke-linejoin="round"/><polygon points="532.2,111.8 527.6,122.1 516.4,123.2 509.8,114.2 514.4,103.9 525.6,102.8" fill="#b4e1fa" stroke="#6cbbf2" stroke-width="1" stroke-linejoin="round"/><polygon points="529.2,112.1 525.8,119.7 517.6,120.5 512.8,113.9 516.2,106.3 524.4,105.5" fill="#9fd5f6"/>
<polygon points="550.2,147.1 544.6,162.6 528.4,165.5 517.8,152.9 523.4,137.4 539.6,134.5" fill="#3497e9" stroke="#3a9deb" stroke-width="1.5" stroke-linejoin="round"/><polygon points="545.0,148.1 541.2,158.6 530.2,160.5 523.0,151.9 526.8,141.4 537.8,139.5" fill="#b4e1fa" stroke="#6cbbf2" stroke-width="1" stroke-linejoin="round"/><polygon points="542.1,148.6 539.3,156.3 531.2,157.8 525.9,151.4 528.7,143.7 536.8,142.2" fill="#9fd5f6"/>
<circle cx="520" cy="44" r="4" fill="#fbdfd6"/>
<circle cx="302.4" cy="318.1" r="5.8" fill="#fbdfd6"/><circle cx="309.5" cy="313.7" r="7.2" fill="#fbdfd6"/><circle cx="317.8" cy="317.7" r="7.4" fill="#fbdfd6"/><circle cx="312.5" cy="327.8" r="7.7" fill="#fbdfd6"/><circle cx="306.9" cy="328.7" r="5.7" fill="#fbdfd6"/><circle cx="310" cy="322" r="8.4" fill="#fbdfd6"/>
<circle cx="313.4" cy="392.5" r="4.5" fill="#fbdfd6"/><circle cx="315.5" cy="388.7" r="4.1" fill="#fbdfd6"/><circle cx="321.8" cy="392.0" r="3.8" fill="#fbdfd6"/><circle cx="318.0" cy="396.4" r="3.3" fill="#fbdfd6"/><circle cx="317" cy="393" r="4.8" fill="#fbdfd6"/>
<circle cx="301.6" cy="446.9" r="7.8" fill="#fbdfd6"/><circle cx="311.6" cy="446.0" r="7.2" fill="#fbdfd6"/><circle cx="310.7" cy="455.2" r="7.5" fill="#fbdfd6"/><circle cx="303.4" cy="457.5" r="6.0" fill="#fbdfd6"/><circle cx="307" cy="450" r="8.4" fill="#fbdfd6"/>
<circle cx="343.5" cy="543.9" r="7.3" fill="#fbdfd6"/><circle cx="336.8" cy="548.6" r="7.6" fill="#fbdfd6"/><circle cx="330.5" cy="537.9" r="5.7" fill="#fbdfd6"/><circle cx="337.9" cy="533.9" r="7.2" fill="#fbdfd6"/><circle cx="345.0" cy="534.0" r="7.6" fill="#fbdfd6"/><circle cx="338" cy="540" r="8.4" fill="#fbdfd6"/>
<circle cx="500.4" cy="302.7" r="7.4" fill="#fbdfd6"/><circle cx="495.1" cy="294.6" r="6.5" fill="#fbdfd6"/><circle cx="499.1" cy="290.9" r="7.4" fill="#fbdfd6"/><circle cx="507.8" cy="290.3" r="7.3" fill="#fbdfd6"/><circle cx="508.5" cy="297.1" r="5.4" fill="#fbdfd6"/><circle cx="507.0" cy="301.3" r="5.3" fill="#fbdfd6"/><circle cx="503" cy="296" r="7.8" fill="#fbdfd6"/>
<circle cx="535.1" cy="318.3" r="8.1" fill="#fbdfd6"/><circle cx="545.4" cy="326.2" r="7.5" fill="#fbdfd6"/><circle cx="538.8" cy="334.0" r="8.6" fill="#fbdfd6"/><circle cx="529.9" cy="332.3" r="6.8" fill="#fbdfd6"/><circle cx="537" cy="327" r="9.0" fill="#fbdfd6"/>
<circle cx="521.6" cy="341.2" r="8.2" fill="#fbdfd6"/><circle cx="526.7" cy="349.7" r="6.3" fill="#fbdfd6"/><circle cx="520.7" cy="357.6" r="8.3" fill="#fbdfd6"/><circle cx="510.8" cy="353.3" r="6.6" fill="#fbdfd6"/><circle cx="514.7" cy="340.1" r="7.7" fill="#fbdfd6"/><circle cx="519" cy="348" r="9.0" fill="#fbdfd6"/>
<circle cx="483.5" cy="376.8" r="6.3" fill="#fbdfd6"/><circle cx="494.4" cy="379.4" r="7.1" fill="#fbdfd6"/><circle cx="492.5" cy="389.2" r="5.9" fill="#fbdfd6"/><circle cx="479.7" cy="383.1" r="6.5" fill="#fbdfd6"/><circle cx="488" cy="383" r="8.4" fill="#fbdfd6"/>
<circle cx="522.8" cy="419.5" r="7.1" fill="#fbdfd6"/><circle cx="518.0" cy="408.3" r="8.1" fill="#fbdfd6"/><circle cx="529.9" cy="406.1" r="6.0" fill="#fbdfd6"/><circle cx="532.7" cy="417.1" r="5.7" fill="#fbdfd6"/><circle cx="526" cy="412" r="8.4" fill="#fbdfd6"/>
<circle cx="491.0" cy="476.5" r="7.0" fill="#fbdfd6"/><circle cx="498.8" cy="471.8" r="7.4" fill="#fbdfd6"/><circle cx="505.7" cy="476.0" r="6.9" fill="#fbdfd6"/><circle cx="500.1" cy="483.8" r="5.8" fill="#fbdfd6"/><circle cx="498" cy="478" r="7.8" fill="#fbdfd6"/>
<circle cx="485.4" cy="408.4" r="2.1" fill="#fbdfd6"/><circle cx="489.7" cy="408.1" r="2.2" fill="#fbdfd6"/><circle cx="490.5" cy="410.5" r="2.2" fill="#fbdfd6"/><circle cx="488.8" cy="412.6" r="2.5" fill="#fbdfd6"/><circle cx="485.3" cy="411.3" r="2.1" fill="#fbdfd6"/><circle cx="488" cy="410" r="3.0" fill="#fbdfd6"/>
<polygon points="546.0,424.0 540.5,433.5 529.5,433.5 524.0,424.0 529.5,414.5 540.5,414.5" fill="#3497e9" stroke="#3a9deb" stroke-width="1.5" stroke-linejoin="round"/><polygon points="542.5,424.0 538.7,430.5 531.3,430.5 527.5,424.0 531.3,417.5 538.7,417.5" fill="#b4e1fa" stroke="#6cbbf2" stroke-width="1" stroke-linejoin="round"/><polygon points="540.5,424.0 537.8,428.8 532.2,428.8 529.5,424.0 532.2,419.2 537.8,419.2" fill="#9fd5f6"/>
<circle cx="279" cy="418" r="2" fill="#c9d3dc"/>
<circle cx="336" cy="399" r="2" fill="#c9d3dc"/>
<circle cx="521" cy="493" r="2" fill="#c9d3dc"/>
<circle cx="501" cy="553" r="2" fill="#c9d3dc"/>
<rect x="498" y="548" width="6" height="6" fill="#fbdfd6"/>
<path d="M159.0,-5.0 C159.0,-4.2 158.3,-10.8 159.0,0.0 C159.7,10.8 161.5,41.7 163.0,60.0 C164.5,78.3 166.5,95.0 168.0,110.0 C169.5,125.0 169.5,137.8 172.0,150.0 C174.5,162.2 179.3,172.0 183.0,183.0 C186.7,194.0 191.2,206.8 194.0,216.0 C196.8,225.2 197.5,227.2 200.0,238.0 C202.5,248.8 206.0,265.8 209.0,281.0 C212.0,296.2 215.1,313.0 218.0,329.0 C220.9,345.0 224.3,362.5 226.5,377.0 C228.7,391.5 229.2,403.8 231.0,416.0 C232.8,428.2 235.2,441.0 237.0,450.0 C238.8,459.0 239.8,458.5 242.0,470.0 C244.2,481.5 247.4,502.8 250.0,519.0 C252.6,535.2 255.5,555.0 257.5,567.0 C259.5,579.0 260.2,582.8 262.0,591.0 C263.8,599.2 265.5,607.8 268.0,616.0 C270.5,624.2 273.8,633.3 277.0,640.0 C280.2,646.7 283.2,651.5 287.0,656.0 C290.8,660.5 295.3,664.2 300.0,667.0 C304.7,669.8 310.3,672.5 315.0,673.0 C319.7,673.5 324.7,672.2 328.0,670.0 C331.3,667.8 333.8,661.7 335.0,660.0 L335.0,660.0 C334.5,656.7 333.3,647.3 332.0,640.0 C330.7,632.7 329.0,624.0 327.0,616.0 C325.0,608.0 322.5,600.2 320.0,592.0 C317.5,583.8 314.7,575.2 312.0,567.0 C309.3,558.8 306.8,551.0 304.0,543.0 C301.2,535.0 298.2,527.3 295.0,519.0 C291.8,510.7 287.7,500.3 285.0,493.0 C282.3,485.7 281.2,482.2 279.0,475.0 C276.8,467.8 273.5,458.2 271.5,450.0 C269.5,441.8 267.9,434.2 267.0,426.0 C266.1,417.8 265.8,409.2 266.0,401.0 C266.2,392.8 266.8,384.2 268.0,377.0 C269.2,369.8 271.4,363.3 273.0,358.0 C274.6,352.7 276.4,349.2 277.5,345.0 C278.6,340.8 279.5,337.0 279.5,333.0 C279.5,329.0 278.9,325.3 277.5,321.0 C276.1,316.7 273.4,311.7 271.0,307.0 C268.6,302.3 265.3,297.5 263.0,293.0 C260.7,288.5 258.8,288.8 257.0,280.0 C255.2,271.2 253.3,251.7 252.0,240.0 C250.7,228.3 250.3,221.7 249.0,210.0 C247.7,198.3 245.5,180.0 244.0,170.0 C242.5,160.0 241.2,156.2 240.0,150.0 C238.8,143.8 238.8,141.3 237.0,133.0 C235.2,124.7 231.5,111.0 229.0,100.0 C226.5,89.0 223.8,77.0 222.0,67.0 C220.2,57.0 219.2,51.2 218.0,40.0 C216.8,28.8 215.5,7.5 215.0,0.0 C214.5,-7.5 215.0,-4.2 215.0,-5.0 Z" fill="url(#gLW)"/>
<path d="M159.0,-5.0 C159.0,-4.2 158.3,-10.8 159.0,0.0 C159.7,10.8 161.5,41.7 163.0,60.0 C164.5,78.3 166.5,95.0 168.0,110.0 C169.5,125.0 169.5,137.8 172.0,150.0 C174.5,162.2 179.3,172.0 183.0,183.0 C186.7,194.0 191.2,206.8 194.0,216.0 C196.8,225.2 199.0,234.3 200.0,238.0 L244,271 L236,200 L225,100 L215,-5 Z" fill="url(#gLWtop)"/>
<path d="M199,236 C210,252 225,264 246,272 L256,290 C262,300 270,312 270,330 C268,350 262,368 258,384 C244,378 232,366 221,352 C215,320 208,280 199,236 Z" fill="url(#gLWlow)"/>
<path d="M200,238 C210,252 225,264 246,272" fill="none" stroke="#fff" stroke-width="2.2"/>
<path d="M215.0,-5.0 C215.0,-4.2 214.5,-7.5 215.0,0.0 C215.5,7.5 216.8,28.8 218.0,40.0 C219.2,51.2 220.2,57.0 222.0,67.0 C223.8,77.0 226.5,89.0 229.0,100.0 C231.5,111.0 235.2,124.7 237.0,133.0 C238.8,141.3 238.8,143.8 240.0,150.0 C241.2,156.2 242.5,160.0 244.0,170.0 C245.5,180.0 247.7,198.3 249.0,210.0 C250.3,221.7 250.7,228.3 252.0,240.0 C253.3,251.7 255.2,271.2 257.0,280.0 C258.8,288.8 260.7,288.5 263.0,293.0 C265.3,297.5 268.6,302.3 271.0,307.0 C273.4,311.7 276.1,316.7 277.5,321.0 C278.9,325.3 279.5,329.0 279.5,333.0 C279.5,337.0 278.6,340.8 277.5,345.0 C276.4,349.2 274.6,352.7 273.0,358.0 C271.4,363.3 269.2,369.8 268.0,377.0 C266.8,384.2 266.2,392.8 266.0,401.0 C265.8,409.2 266.1,417.8 267.0,426.0 C267.9,434.2 269.5,441.8 271.5,450.0 C273.5,458.2 276.8,467.8 279.0,475.0 C281.2,482.2 282.3,485.7 285.0,493.0 C287.7,500.3 291.8,510.7 295.0,519.0 C298.2,527.3 301.2,535.0 304.0,543.0 C306.8,551.0 309.3,558.8 312.0,567.0 C314.7,575.2 317.5,583.8 320.0,592.0 C322.5,600.2 325.0,608.0 327.0,616.0 C329.0,624.0 330.7,632.7 332.0,640.0 C333.3,647.3 334.5,656.7 335.0,660.0 L326.0,668.0 C325.5,664.7 324.7,656.2 323.0,648.0 C321.3,639.8 318.2,627.6 315.8,618.8 C313.5,610.0 311.5,603.4 309.0,595.4 C306.5,587.3 303.7,578.7 301.1,570.6 C298.4,562.5 296.0,554.8 293.2,546.8 C290.4,538.9 287.4,531.4 284.2,523.1 C281.1,514.8 276.9,504.4 274.2,496.9 C271.5,489.5 270.3,485.8 268.0,478.4 C265.7,471.1 262.4,461.3 260.3,452.7 C258.3,444.2 256.5,435.9 255.6,427.3 C254.6,418.6 254.3,409.5 254.5,400.8 C254.7,392.1 255.4,382.8 256.6,375.2 C257.9,367.5 260.4,360.2 262.0,354.7 C263.6,349.2 265.4,345.7 266.4,342.1 C267.4,338.5 268.0,335.9 268.0,333.0 C268.0,330.1 267.8,328.0 266.6,324.6 C265.4,321.1 263.1,316.7 260.8,312.3 C258.5,307.9 255.3,303.3 252.8,298.3 C250.3,293.3 247.8,291.8 245.7,282.3 C243.7,272.8 241.9,253.1 240.6,241.3 C239.2,229.5 238.9,222.9 237.6,211.3 C236.2,199.7 234.1,181.6 232.6,171.7 C231.1,161.8 229.8,158.2 228.7,152.1 C227.6,146.1 227.6,143.7 225.8,135.5 C223.9,127.2 220.3,113.6 217.8,102.5 C215.3,91.5 212.6,79.3 210.7,69.1 C208.8,58.8 207.8,52.6 206.6,41.2 C205.4,29.8 204.0,8.5 203.5,0.8 C203.0,-6.9 203.5,-4.0 203.5,-5.0 Z" fill="#5c7fa3"/>
<path d="M202.5,-5.0 C202.5,-4.0 202.0,-6.9 202.5,0.8 C203.0,8.5 204.4,29.9 205.6,41.3 C206.8,52.7 207.8,59.0 209.7,69.3 C211.6,79.5 214.3,91.7 216.8,102.8 C219.3,113.8 223.0,127.4 224.8,135.7 C226.6,143.9 226.6,146.3 227.7,152.3 C228.9,158.4 230.2,162.0 231.6,171.9 C233.1,181.7 235.3,199.8 236.6,211.4 C237.9,223.0 238.2,229.6 239.6,241.4 C240.9,253.3 242.7,273.0 244.8,282.5 C246.8,292.1 249.4,293.7 251.9,298.8 C254.4,303.8 257.6,308.4 259.9,312.7 C262.2,317.1 264.4,321.5 265.6,324.9 C266.8,328.3 267.0,330.2 267.0,333.0 C267.0,335.8 266.4,338.3 265.4,341.9 C264.4,345.4 262.6,348.9 261.0,354.4 C259.4,360.0 256.9,367.3 255.7,375.0 C254.4,382.7 253.7,392.0 253.5,400.7 C253.3,409.5 253.6,418.7 254.6,427.4 C255.6,436.1 257.3,444.4 259.4,453.0 C261.4,461.5 264.8,471.4 267.1,478.7 C269.4,486.1 270.5,489.8 273.3,497.3 C276.0,504.7 280.2,515.1 283.3,523.4 C286.5,531.8 289.4,539.3 292.2,547.2 C295.0,555.1 297.5,562.8 300.1,570.9 C302.8,579.0 305.6,587.6 308.0,595.7 C310.5,603.7 312.5,610.3 314.9,619.0 C317.2,627.8 320.3,639.8 322.0,648.0 C323.7,656.2 324.5,664.7 325.0,668.0 " fill="none" stroke="#e6ecf4" stroke-width="1.6"/>
<path d="M267.9,308.6 C268.9,310.9 272.8,318.0 274.2,322.1 C275.5,326.2 276.0,329.3 276.0,333.0 C276.0,336.7 275.2,340.1 274.1,344.1 C273.1,348.1 271.2,351.6 269.6,357.0 C268.1,362.4 265.7,369.1 264.5,376.4 C263.4,383.8 262.7,392.6 262.5,400.9 C262.3,409.3 262.6,418.1 263.5,426.4 C264.5,434.7 266.1,442.6 268.1,450.8 C270.1,459.1 273.4,468.8 275.7,476.0 C277.9,483.3 279.0,486.8 281.7,494.2 C284.4,501.6 288.6,511.9 291.7,520.2 C294.9,528.6 297.9,536.2 300.7,544.2 C303.5,552.1 306.0,559.9 308.7,568.1 C311.3,576.2 314.2,584.9 316.7,593.0 C319.1,601.2 321.6,608.9 323.6,616.8 C325.6,624.8 327.2,633.3 328.6,640.6 C329.9,647.9 331.0,657.2 331.5,660.5 " fill="none" stroke="#2c4864" stroke-width="6" opacity="0.8"/>
<path d="M159.0,-5.0 C159.0,-4.2 158.3,-10.8 159.0,0.0 C159.7,10.8 161.5,41.7 163.0,60.0 C164.5,78.3 166.5,95.0 168.0,110.0 C169.5,125.0 169.5,137.8 172.0,150.0 C174.5,162.2 179.3,172.0 183.0,183.0 C186.7,194.0 191.2,206.8 194.0,216.0 C196.8,225.2 197.5,227.2 200.0,238.0 C202.5,248.8 206.0,265.8 209.0,281.0 C212.0,296.2 215.1,313.0 218.0,329.0 C220.9,345.0 224.3,362.5 226.5,377.0 C228.7,391.5 229.2,403.8 231.0,416.0 C232.8,428.2 235.2,441.0 237.0,450.0 C238.8,459.0 239.8,458.5 242.0,470.0 C244.2,481.5 247.4,502.8 250.0,519.0 C252.6,535.2 255.5,555.0 257.5,567.0 C259.5,579.0 260.2,582.8 262.0,591.0 C263.8,599.2 265.5,607.8 268.0,616.0 C270.5,624.2 273.8,633.3 277.0,640.0 C280.2,646.7 283.2,651.5 287.0,656.0 C290.8,660.5 295.3,664.2 300.0,667.0 C304.7,669.8 310.3,672.5 315.0,673.0 C319.7,673.5 324.7,672.2 328.0,670.0 C331.3,667.8 333.8,661.7 335.0,660.0 L335.0,660.0 C334.5,656.7 333.3,647.3 332.0,640.0 C330.7,632.7 329.0,624.0 327.0,616.0 C325.0,608.0 322.5,600.2 320.0,592.0 C317.5,583.8 314.7,575.2 312.0,567.0 C309.3,558.8 306.8,551.0 304.0,543.0 C301.2,535.0 298.2,527.3 295.0,519.0 C291.8,510.7 287.7,500.3 285.0,493.0 C282.3,485.7 281.2,482.2 279.0,475.0 C276.8,467.8 273.5,458.2 271.5,450.0 C269.5,441.8 267.9,434.2 267.0,426.0 C266.1,417.8 265.8,409.2 266.0,401.0 C266.2,392.8 266.8,384.2 268.0,377.0 C269.2,369.8 271.4,363.3 273.0,358.0 C274.6,352.7 276.4,349.2 277.5,345.0 C278.6,340.8 279.5,337.0 279.5,333.0 C279.5,329.0 278.9,325.3 277.5,321.0 C276.1,316.7 273.4,311.7 271.0,307.0 C268.6,302.3 265.3,297.5 263.0,293.0 C260.7,288.5 258.8,288.8 257.0,280.0 C255.2,271.2 253.3,251.7 252.0,240.0 C250.7,228.3 250.3,221.7 249.0,210.0 C247.7,198.3 245.5,180.0 244.0,170.0 C242.5,160.0 241.2,156.2 240.0,150.0 C238.8,143.8 238.8,141.3 237.0,133.0 C235.2,124.7 231.5,111.0 229.0,100.0 C226.5,89.0 223.8,77.0 222.0,67.0 C220.2,57.0 219.2,51.2 218.0,40.0 C216.8,28.8 215.5,7.5 215.0,0.0 C214.5,-7.5 215.0,-4.2 215.0,-5.0 Z" fill="none" stroke="#000" stroke-width="4.2" stroke-linejoin="round"/>
<path d="M214.4,-5.0 C214.4,-4.2 213.9,-7.5 214.4,0.0 C214.9,7.6 216.2,28.9 217.4,40.1 C218.6,51.2 219.6,57.1 221.4,67.1 C223.2,77.1 225.9,89.1 228.4,100.1 C230.9,111.1 234.6,124.8 236.4,133.1 C238.2,141.5 238.2,144.0 239.4,150.1 C240.6,156.3 241.9,160.1 243.4,170.1 C244.9,180.1 247.1,198.4 248.4,210.1 C249.7,221.7 250.1,228.4 251.4,240.1 C252.7,251.7 254.6,271.3 256.4,280.1 C258.3,289.0 260.1,288.8 262.5,293.3 C264.8,297.8 268.1,302.6 270.5,307.3 C272.9,311.9 275.5,316.9 276.9,321.2 C278.3,325.5 278.9,329.1 278.9,333.0 C278.9,336.9 278.0,340.7 276.9,344.8 C275.8,349.0 274.0,352.5 272.4,357.8 C270.8,363.2 268.6,369.7 267.4,376.9 C266.2,384.1 265.6,392.8 265.4,401.0 C265.2,409.2 265.5,417.9 266.4,426.1 C267.3,434.3 268.9,442.0 270.9,450.1 C272.9,458.3 276.2,468.0 278.4,475.2 C280.7,482.4 281.8,485.9 284.4,493.2 C287.1,500.5 291.3,510.9 294.4,519.2 C297.6,527.5 300.6,535.2 303.4,543.2 C306.3,551.2 308.8,559.0 311.4,567.2 C314.1,575.3 316.9,584.0 319.4,592.2 C321.9,600.3 324.4,608.2 326.4,616.1 C328.4,624.1 330.6,636.1 331.4,640.1 " fill="none" stroke="#000" stroke-width="5" stroke-linecap="round"/>
<path d="M615.0,-5.0 C614.8,-4.2 615.5,-7.0 614.0,0.0 C612.5,7.0 609.2,24.8 606.0,37.0 C602.8,49.2 597.5,63.0 595.0,73.0 C592.5,83.0 591.8,88.8 591.0,97.0 C590.2,105.2 590.2,111.5 590.0,122.0 C589.8,132.5 589.8,148.7 590.0,160.0 C590.2,171.3 591.8,176.8 591.0,190.0 C590.2,203.2 587.8,222.8 585.0,239.0 C582.2,255.2 577.9,270.8 574.0,287.0 C570.1,303.2 564.3,319.7 561.5,336.0 C558.7,352.3 557.9,373.8 557.0,385.0 C556.1,396.2 556.0,397.2 556.0,403.0 C556.0,408.8 557.5,412.3 557.0,420.0 C556.5,427.7 554.7,440.2 553.0,449.0 C551.3,457.8 549.7,465.0 547.0,473.0 C544.3,481.0 540.5,488.8 537.0,497.0 C533.5,505.2 529.2,513.8 526.0,522.0 C522.8,530.2 521.0,538.2 518.0,546.0 C515.0,553.8 511.2,561.2 508.0,569.0 C504.8,576.8 501.2,585.0 499.0,593.0 C496.8,601.0 495.4,608.8 494.5,617.0 C493.6,625.2 493.3,635.3 493.7,642.0 C494.1,648.7 494.3,652.6 497.0,657.0 C499.7,661.4 504.2,668.2 510.0,668.5 C515.8,668.8 525.8,664.2 532.0,659.0 C538.2,653.8 544.5,640.7 547.0,637.0 L547.0,637.0 C548.6,631.7 554.0,616.2 556.5,605.0 C559.0,593.8 559.9,583.8 562.0,570.0 C564.1,556.2 566.2,538.2 569.0,522.0 C571.8,505.8 576.0,487.7 578.7,473.0 C581.4,458.3 583.5,445.7 585.0,434.0 C586.5,422.3 587.0,411.2 588.0,403.0 C589.0,394.8 589.2,396.2 591.0,385.0 C592.8,373.8 596.0,352.3 599.0,336.0 C602.0,319.7 605.5,303.2 609.0,287.0 C612.5,270.8 616.2,254.3 620.0,239.0 C623.8,223.7 628.0,210.5 632.0,195.0 C636.0,179.5 640.7,162.3 644.0,146.0 C647.3,129.7 650.2,113.2 652.0,97.0 C653.8,80.8 654.0,65.2 655.0,49.0 C656.0,32.8 657.5,9.0 658.0,0.0 C658.5,-9.0 658.0,-4.2 658.0,-5.0 Z" fill="url(#gRW)"/>
<path d="M658.0,-5.0 C658.0,-4.2 658.5,-9.0 658.0,0.0 C657.5,9.0 656.0,32.8 655.0,49.0 C654.0,65.2 653.8,80.8 652.0,97.0 C650.2,113.2 647.3,129.7 644.0,146.0 C640.7,162.3 636.0,179.5 632.0,195.0 C628.0,210.5 623.8,223.7 620.0,239.0 C616.2,254.3 612.5,270.8 609.0,287.0 C605.5,303.2 602.0,319.7 599.0,336.0 C596.0,352.3 592.8,373.8 591.0,385.0 C589.2,396.2 589.0,394.8 588.0,403.0 C587.0,411.2 586.5,422.3 585.0,434.0 C583.5,445.7 581.4,458.3 578.7,473.0 C576.0,487.7 571.8,505.8 569.0,522.0 C566.2,538.2 564.1,556.2 562.0,570.0 C559.9,583.8 557.4,599.2 556.5,605.0 L556.5,605.0 C557.3,599.2 559.9,583.8 561.4,569.9 C562.8,556.0 563.5,537.7 565.3,521.4 C567.0,505.0 570.1,486.5 571.9,471.8 C573.6,457.0 574.8,444.4 575.6,432.8 C576.4,421.1 576.1,409.9 576.6,401.6 C577.1,393.3 576.9,394.3 578.5,382.9 C580.1,371.6 583.2,350.1 586.2,333.7 C589.2,317.2 592.8,300.6 596.3,284.2 C599.8,267.9 603.5,251.3 607.4,235.8 C611.2,220.4 615.4,207.2 619.4,191.8 C623.4,176.3 628.0,159.4 631.3,143.4 C634.5,127.4 637.3,111.4 639.1,95.5 C640.9,79.7 641.0,64.2 642.0,48.2 C643.0,32.2 644.5,8.1 645.0,-0.7 C645.5,-9.6 645.0,-4.3 645.0,-5.0 Z" fill="#f4f2f3" opacity="0.75"/>
<path d="M621.9,-3.6 C621.7,-2.8 622.4,-5.6 620.8,1.5 C619.3,8.5 615.9,26.6 612.8,38.8 C609.6,51.0 604.3,64.9 601.8,74.7 C599.3,84.5 598.8,89.8 598.0,97.7 C597.2,105.6 597.2,111.7 597.0,122.1 C596.8,132.5 596.8,148.5 597.0,159.9 C597.2,171.3 598.8,177.1 598.0,190.4 C597.1,203.8 594.8,223.8 591.9,240.2 C589.0,256.6 584.7,272.5 580.8,288.6 C576.9,304.8 571.2,321.0 568.4,337.2 C565.6,353.4 564.9,374.6 564.0,385.6 C563.1,396.5 563.0,397.2 563.0,403.0 C563.0,408.8 564.5,412.6 564.0,420.5 C563.5,428.3 561.6,441.2 559.9,450.3 C558.2,459.4 556.4,467.0 553.6,475.2 C550.9,483.5 547.0,491.5 543.4,499.8 C539.9,508.0 535.7,516.4 532.5,524.5 C529.4,532.7 527.5,540.7 524.5,548.5 C521.5,556.4 517.6,563.9 514.5,571.6 C511.4,579.4 507.9,587.2 505.7,594.9 C503.6,602.6 502.3,610.0 501.5,617.8 C500.6,625.5 500.4,635.6 500.7,641.6 C500.9,647.5 502.6,651.4 503.0,653.3 " fill="none" stroke="#ffffff" stroke-width="8" stroke-linecap="round"/>
<path d="M616,-5 L634,-5 C630,20 620,50 607,75 C603,85 600,100 598,120 L594,120 C594,100 596,85 600,72 C608,50 614,20 616,-5 Z" fill="#fff"/>
<path d="M617,236 C608,246 598,252 588,256" fill="none" stroke="#fff" stroke-width="3"/>
<path d="M615.0,-5.0 C614.8,-4.2 615.5,-7.0 614.0,0.0 C612.5,7.0 609.2,24.8 606.0,37.0 C602.8,49.2 597.5,63.0 595.0,73.0 C592.5,83.0 591.8,88.8 591.0,97.0 C590.2,105.2 590.2,111.5 590.0,122.0 C589.8,132.5 589.8,148.7 590.0,160.0 C590.2,171.3 591.8,176.8 591.0,190.0 C590.2,203.2 587.8,222.8 585.0,239.0 C582.2,255.2 577.9,270.8 574.0,287.0 C570.1,303.2 564.3,319.7 561.5,336.0 C558.7,352.3 557.9,373.8 557.0,385.0 C556.1,396.2 556.0,397.2 556.0,403.0 C556.0,408.8 557.5,412.3 557.0,420.0 C556.5,427.7 554.7,440.2 553.0,449.0 C551.3,457.8 549.7,465.0 547.0,473.0 C544.3,481.0 540.5,488.8 537.0,497.0 C533.5,505.2 529.2,513.8 526.0,522.0 C522.8,530.2 521.0,538.2 518.0,546.0 C515.0,553.8 511.2,561.2 508.0,569.0 C504.8,576.8 501.2,585.0 499.0,593.0 C496.8,601.0 495.4,608.8 494.5,617.0 C493.6,625.2 493.3,635.3 493.7,642.0 C494.1,648.7 494.3,652.6 497.0,657.0 C499.7,661.4 504.2,668.2 510.0,668.5 C515.8,668.8 525.8,664.2 532.0,659.0 C538.2,653.8 544.5,640.7 547.0,637.0 L547.0,637.0 C548.6,631.7 554.0,616.2 556.5,605.0 C559.0,593.8 559.9,583.8 562.0,570.0 C564.1,556.2 566.2,538.2 569.0,522.0 C571.8,505.8 576.0,487.7 578.7,473.0 C581.4,458.3 583.5,445.7 585.0,434.0 C586.5,422.3 587.0,411.2 588.0,403.0 C589.0,394.8 589.2,396.2 591.0,385.0 C592.8,373.8 596.0,352.3 599.0,336.0 C602.0,319.7 605.5,303.2 609.0,287.0 C612.5,270.8 616.2,254.3 620.0,239.0 C623.8,223.7 628.0,210.5 632.0,195.0 C636.0,179.5 640.7,162.3 644.0,146.0 C647.3,129.7 650.2,113.2 652.0,97.0 C653.8,80.8 654.0,65.2 655.0,49.0 C656.0,32.8 657.5,9.0 658.0,0.0 C658.5,-9.0 658.0,-4.2 658.0,-5.0 Z" fill="none" stroke="#000" stroke-width="4.2" stroke-linejoin="round"/>
<path d="M615.6,-4.9 C615.4,-4.0 616.1,-6.9 614.6,0.1 C613.1,7.1 609.7,25.0 606.6,37.2 C603.4,49.3 598.1,63.2 595.6,73.1 C593.1,83.1 592.4,88.9 591.6,97.1 C590.8,105.2 590.8,111.5 590.6,122.0 C590.4,132.5 590.4,148.7 590.6,160.0 C590.8,171.3 592.4,176.9 591.6,190.0 C590.8,203.2 588.4,222.9 585.6,239.1 C582.8,255.3 578.5,271.0 574.6,287.1 C570.7,303.3 564.9,319.8 562.1,336.1 C559.3,352.4 558.5,373.9 557.6,385.0 C556.7,396.2 556.6,397.2 556.6,403.0 C556.6,408.8 558.1,412.4 557.6,420.0 C557.1,427.7 555.3,440.3 553.6,449.1 C551.9,458.0 550.2,465.2 547.6,473.2 C544.9,481.2 541.1,489.1 537.6,497.2 C534.0,505.4 529.7,514.1 526.6,522.2 C523.4,530.4 521.6,538.4 518.6,546.2 C515.6,554.0 511.7,561.4 508.6,569.2 C505.4,577.0 501.8,585.2 499.6,593.2 C497.3,601.1 496.0,608.9 495.1,617.1 C494.2,625.2 494.4,637.8 494.3,642.0 " fill="none" stroke="#000" stroke-width="5" stroke-linecap="round"/>
<path d="M547.0,637.0 C548.6,631.7 554.0,616.2 556.5,605.0 C559.0,593.8 559.9,583.8 562.0,570.0 C564.1,556.2 566.2,538.2 569.0,522.0 C571.8,505.8 576.0,487.7 578.7,473.0 C581.4,458.3 584.0,440.5 585.0,434.0 " fill="none" stroke="#000" stroke-width="5" stroke-linecap="round"/>
<path d="M237.0,450.0 C237.8,453.3 239.8,458.5 242.0,470.0 C244.2,481.5 247.4,502.8 250.0,519.0 C252.6,535.2 255.5,555.0 257.5,567.0 C259.5,579.0 260.2,582.8 262.0,591.0 C263.8,599.2 265.5,607.8 268.0,616.0 C270.5,624.2 273.8,633.3 277.0,640.0 C280.2,646.7 283.2,651.5 287.0,656.0 C290.8,660.5 295.3,664.2 300.0,667.0 C304.7,669.8 310.3,672.5 315.0,673.0 C319.7,673.5 324.7,672.2 328.0,670.0 C331.3,667.8 333.8,661.7 335.0,660.0 " fill="none" stroke="#000" stroke-width="5" stroke-linecap="round"/>
<path d="M355,-5 L460,-5 L460,245 L440,250 L440,455 L372,455 L372,250 L355,245 Z" fill="#323238"/>
<path d="M352,236 L352,483 C356,492 362,498 369,502 C375,499 380,496 383,492 L383.0,492.0 C383.0,489.2 384.0,482.0 383.0,475.0 C382.0,468.0 378.3,458.3 377.0,450.0 C375.7,441.7 374.7,434.2 375.0,425.0 C375.3,415.8 377.8,404.2 379.0,395.0 C380.2,385.8 381.3,380.0 382.0,370.0 C382.7,360.0 382.8,346.7 383.0,335.0 C383.2,323.3 383.3,310.0 383.0,300.0 C382.7,290.0 381.5,282.0 381.0,275.0 C380.5,268.0 380.3,264.5 380.0,258.0 C379.7,251.5 379.2,239.7 379.0,236.0 L366,236 Z" fill="url(#gSL)"/>
<path d="M379.0,236.0 C379.2,239.7 379.7,251.5 380.0,258.0 C380.3,264.5 380.5,268.0 381.0,275.0 C381.5,282.0 382.7,290.0 383.0,300.0 C383.3,310.0 383.2,323.3 383.0,335.0 C382.8,346.7 382.7,360.0 382.0,370.0 C381.3,380.0 380.2,385.8 379.0,395.0 C377.8,404.2 375.3,415.8 375.0,425.0 C374.7,434.2 375.7,441.7 377.0,450.0 C378.3,458.3 382.0,468.0 383.0,475.0 C384.0,482.0 383.0,489.2 383.0,492.0 L376,496 L372.5,492.0 C372.5,489.4 373.6,483.2 372.6,476.5 C371.6,469.8 368.0,460.3 366.6,451.7 C365.3,443.0 364.2,434.3 364.5,424.6 C364.8,415.0 367.4,402.9 368.6,393.7 C369.8,384.5 370.9,379.1 371.5,369.3 C372.2,359.5 372.3,346.3 372.5,334.9 C372.7,323.4 372.8,310.2 372.5,300.3 C372.2,290.5 371.0,282.7 370.5,275.7 C370.0,268.8 369.8,265.1 369.5,258.5 C369.2,252.0 368.7,240.2 368.5,236.5 Z" fill="#5c7fa3"/>
<path d="M352,236 L352,483 C356,492 362,498 369,502 C375,499 380,496 383,492 L383.0,492.0 C383.0,489.2 384.0,482.0 383.0,475.0 C382.0,468.0 378.3,458.3 377.0,450.0 C375.7,441.7 374.7,434.2 375.0,425.0 C375.3,415.8 377.8,404.2 379.0,395.0 C380.2,385.8 381.3,380.0 382.0,370.0 C382.7,360.0 382.8,346.7 383.0,335.0 C383.2,323.3 383.3,310.0 383.0,300.0 C382.7,290.0 381.5,282.0 381.0,275.0 C380.5,268.0 380.3,264.5 380.0,258.0 C379.7,251.5 379.2,239.7 379.0,236.0 L366,236 Z" fill="none" stroke="#000" stroke-width="3"/>
<path d="M433.0,236.0 C433.2,240.3 434.7,253.8 434.5,262.0 C434.3,270.2 432.0,274.5 432.0,285.0 C432.0,295.5 434.3,314.2 434.5,325.0 C434.7,335.8 432.9,338.3 433.0,350.0 C433.1,361.7 434.0,382.5 435.0,395.0 C436.0,407.5 438.5,416.7 439.0,425.0 C439.5,433.3 439.0,436.7 438.0,445.0 C437.0,453.3 433.8,467.5 433.0,475.0 C432.2,482.5 433.0,487.5 433.0,490.0 C436,496 439,499 442,501 C450,497 456,492 460,484 L460,236 L452,236 Z" fill="url(#gSR)" stroke="#000" stroke-width="2.5"/>
<path d="M433.0,236.0 C433.2,240.3 434.7,253.8 434.5,262.0 C434.3,270.2 432.0,274.5 432.0,285.0 C432.0,295.5 434.3,314.2 434.5,325.0 C434.7,335.8 432.9,338.3 433.0,350.0 C433.1,361.7 434.0,382.5 435.0,395.0 C436.0,407.5 438.5,416.7 439.0,425.0 C439.5,433.3 439.0,436.7 438.0,445.0 C437.0,453.3 433.8,467.5 433.0,475.0 C432.2,482.5 433.0,487.5 433.0,490.0 L440,497" fill="none" stroke="#fff" stroke-width="8.5" stroke-linejoin="round"/>
<path d="M428.5,490 C432,496 437,499 442,501.500 C450,497 456,492 460,484 L460,236" fill="none" stroke="#000" stroke-width="2.5"/>
<path d="M428.4,236.3 C428.7,240.5 430.1,253.8 429.9,261.9 C429.7,270.0 427.4,274.5 427.4,285.0 C427.4,295.5 429.7,314.2 429.9,325.1 C430.1,335.9 428.3,338.3 428.4,350.0 C428.5,361.7 429.4,382.8 430.4,395.4 C431.4,407.9 433.9,417.1 434.4,425.3 C434.9,433.5 434.4,436.2 433.4,444.5 C432.4,452.7 429.3,466.9 428.4,474.5 C427.6,482.1 428.4,487.4 428.4,490.0 " fill="none" stroke="#000" stroke-width="1.6"/>
<rect x="379" y="177" width="12" height="27" fill="#dcdce4"/>
<rect x="436" y="177" width="12" height="27" fill="#c8c8d0"/>
<ellipse cx="410" cy="223" rx="35" ry="21" fill="#17171b"/>
<path d="M376,204 L392,204 L392,214 L378,220 Z" fill="#18181c"/>
<rect x="390" y="-5" width="33.5" height="675" fill="#3c6fc3"/>
<path d="M377,666 L436,666 L407,716 Z" fill="#3c6fc3"/>
<rect x="381" y="449" width="9" height="12" fill="#e4e4ea"/>
<rect x="423" y="449" width="4" height="9" fill="#e4e4ea"/>
<path d="M336,-5 L336,226 C340,240 352,250 364,258 C370,256 375,252 378,247 L378.0,247.0 C378.0,240.8 377.8,222.0 378.0,210.0 C378.2,198.0 379.0,185.8 379.0,175.0 C379.0,164.2 379.0,153.3 378.0,145.0 C377.0,136.7 374.3,131.2 373.0,125.0 C371.7,118.8 370.0,113.8 370.0,108.0 C370.0,102.2 371.5,96.3 373.0,90.0 C374.5,83.7 377.8,76.7 379.0,70.0 C380.2,63.3 380.2,61.7 380.0,50.0 C379.8,38.3 378.3,9.2 378.0,0.0 C377.7,-9.2 378.0,-4.2 378.0,-5.0 Z" fill="url(#gSL)"/>
<path d="M378.0,-5.0 C378.0,-4.2 377.7,-9.2 378.0,0.0 C378.3,9.2 379.8,38.3 380.0,50.0 C380.2,61.7 380.2,63.3 379.0,70.0 C377.8,76.7 374.5,83.7 373.0,90.0 C371.5,96.3 370.0,102.2 370.0,108.0 C370.0,113.8 371.7,118.8 373.0,125.0 C374.3,131.2 377.0,136.7 378.0,145.0 C379.0,153.3 379.0,164.2 379.0,175.0 C379.0,185.8 378.2,198.0 378.0,210.0 C377.8,222.0 378.0,240.8 378.0,247.0 L371,252 L369.5,247.0 C369.5,240.8 369.3,221.9 369.5,209.9 C369.7,197.9 370.5,185.6 370.5,175.0 C370.5,164.4 371.0,154.2 369.6,146.0 C368.1,137.8 363.9,132.3 362.0,126.0 C360.1,119.7 358.2,114.0 358.0,108.0 C357.8,102.0 358.9,96.6 361.0,90.0 C363.1,83.4 368.9,75.2 370.6,68.5 C372.4,61.9 371.7,61.5 371.5,50.1 C371.3,38.8 369.8,9.5 369.5,0.3 C369.2,-8.9 369.5,-4.1 369.5,-5.0 Z" fill="#5c7fa3"/>
<path d="M336,-5 L336,226 C340,240 352,250 364,258 C370,256 375,252 378,247 L378.0,247.0 C378.0,240.8 377.8,222.0 378.0,210.0 C378.2,198.0 379.0,185.8 379.0,175.0 C379.0,164.2 379.0,153.3 378.0,145.0 C377.0,136.7 374.3,131.2 373.0,125.0 C371.7,118.8 370.0,113.8 370.0,108.0 C370.0,102.2 371.5,96.3 373.0,90.0 C374.5,83.7 377.8,76.7 379.0,70.0 C380.2,63.3 380.2,61.7 380.0,50.0 C379.8,38.3 378.3,9.2 378.0,0.0 C377.7,-9.2 378.0,-4.2 378.0,-5.0 Z" fill="none" stroke="#000" stroke-width="3.8" stroke-linejoin="round"/>
<path d="M452.0,-5.0 C452.2,-4.2 452.3,-7.5 453.0,0.0 C453.7,7.5 456.2,29.2 456.0,40.0 C455.8,50.8 453.7,56.7 452.0,65.0 C450.3,73.3 447.3,82.5 446.0,90.0 C444.7,97.5 443.8,102.5 444.0,110.0 C444.2,117.5 445.8,125.8 447.0,135.0 C448.2,144.2 449.8,153.3 451.0,165.0 C452.2,176.7 453.8,194.2 454.0,205.0 C454.2,215.8 452.8,223.2 452.0,230.0 C451.2,236.8 449.5,243.3 449.0,246.0 L454,253 C466,246 476,236 478,225 L478,-5 Z" fill="url(#gSR)" stroke="#000" stroke-width="2.5"/>
<path d="M452.0,-5.0 C452.2,-4.2 452.3,-7.5 453.0,0.0 C453.7,7.5 456.2,29.2 456.0,40.0 C455.8,50.8 453.7,56.7 452.0,65.0 C450.3,73.3 447.3,82.5 446.0,90.0 C444.7,97.5 443.8,102.5 444.0,110.0 C444.2,117.5 445.8,125.8 447.0,135.0 C448.2,144.2 449.8,153.3 451.0,165.0 C452.2,176.7 453.8,194.2 454.0,205.0 C454.2,215.8 452.8,223.2 452.0,230.0 C451.2,236.8 449.5,243.3 449.0,246.0 L453,251" fill="none" stroke="#fff" stroke-width="9" stroke-linejoin="round"/>
<path d="M442,246 C446,252 450,254 454,254 C466,247 476,237 478,225 L478,-5" fill="none" stroke="#000" stroke-width="3.4"/>
<polygon points="403.1,9.0 397.1,19.5 384.9,19.5 378.9,9.0 384.9,-1.5 397.1,-1.5" fill="#3497e9" stroke="#3a9deb" stroke-width="1.5" stroke-linejoin="round"/><polygon points="399.2,9.0 395.1,16.1 386.9,16.1 382.8,9.0 386.9,1.9 395.1,1.9" fill="#b4e1fa" stroke="#6cbbf2" stroke-width="1" stroke-linejoin="round"/><polygon points="397.1,9.0 394.0,14.2 388.0,14.2 384.9,9.0 388.0,3.8 394.0,3.8" fill="#9fd5f6"/>
<polygon points="432.0,1.7 427.1,12.8 415.1,14.1 408.0,4.3 412.9,-6.8 424.9,-8.1" fill="#3497e9" stroke="#3a9deb" stroke-width="1.5" stroke-linejoin="round"/><polygon points="428.2,2.1 424.8,9.7 416.7,10.5 411.8,3.9 415.2,-3.7 423.3,-4.5" fill="#b4e1fa" stroke="#6cbbf2" stroke-width="1" stroke-linejoin="round"/><polygon points="426.0,2.4 423.6,7.9 417.5,8.5 414.0,3.6 416.4,-1.9 422.5,-2.5" fill="#9fd5f6"/>
<polygon points="419.3,30.0 412.1,42.4 397.9,42.4 390.7,30.0 397.8,17.6 412.1,17.6" fill="#3497e9" stroke="#3a9deb" stroke-width="1.5" stroke-linejoin="round"/><polygon points="414.7,30.0 409.9,38.4 400.1,38.4 395.3,30.0 400.1,21.6 409.9,21.6" fill="#b4e1fa" stroke="#6cbbf2" stroke-width="1" stroke-linejoin="round"/><polygon points="412.1,30.0 408.6,36.2 401.4,36.2 397.9,30.0 401.4,23.8 408.6,23.8" fill="#9fd5f6"/>
<polygon points="445.2,33.0 438.6,44.4 425.4,44.4 418.8,33.0 425.4,21.6 438.6,21.6" fill="#3497e9" stroke="#3a9deb" stroke-width="1.5" stroke-linejoin="round"/><polygon points="441.0,33.0 436.5,40.8 427.5,40.8 423.0,33.0 427.5,25.2 436.5,25.2" fill="#b4e1fa" stroke="#6cbbf2" stroke-width="1" stroke-linejoin="round"/><polygon points="438.6,33.0 435.3,38.7 428.7,38.7 425.4,33.0 428.7,27.3 435.3,27.3" fill="#9fd5f6"/>
<polygon points="393.6,63.7 389.7,69.0 383.1,68.3 380.4,62.3 384.3,57.0 390.9,57.7" fill="#3497e9" stroke="#3a9deb" stroke-width="1.5" stroke-linejoin="round"/><polygon points="391.5,63.5 388.8,67.1 384.4,66.6 382.5,62.5 385.2,58.9 389.6,59.4" fill="#b4e1fa" stroke="#6cbbf2" stroke-width="1" stroke-linejoin="round"/><polygon points="390.3,63.3 388.3,66.0 385.1,65.7 383.7,62.7 385.7,60.0 388.9,60.3" fill="#9fd5f6"/>
<polygon points="434.8,87.0 423.8,100.0 407.0,97.1 401.2,81.0 412.2,68.0 429.0,70.9" fill="#3497e9" stroke="#3a9deb" stroke-width="1.5" stroke-linejoin="round"/><polygon points="429.4,86.0 422.0,94.9 410.5,92.9 406.6,82.0 414.0,73.1 425.5,75.1" fill="#b4e1fa" stroke="#6cbbf2" stroke-width="1" stroke-linejoin="round"/><polygon points="426.4,85.5 420.9,92.0 412.5,90.5 409.6,82.5 415.1,76.0 423.5,77.5" fill="#9fd5f6"/>
<polygon points="406.3,114.0 399.1,126.4 384.9,126.4 377.7,114.0 384.8,101.6 399.1,101.6" fill="#3497e9" stroke="#3a9deb" stroke-width="1.5" stroke-linejoin="round"/><polygon points="401.7,114.0 396.9,122.4 387.1,122.4 382.3,114.0 387.1,105.6 396.9,105.6" fill="#b4e1fa" stroke="#6cbbf2" stroke-width="1" stroke-linejoin="round"/><polygon points="399.1,114.0 395.6,120.2 388.4,120.2 384.9,114.0 388.4,107.8 395.6,107.8" fill="#9fd5f6"/>
<polygon points="435.7,117.0 431.9,123.7 424.1,123.7 420.3,117.0 424.1,110.3 431.9,110.3" fill="#3497e9" stroke="#3a9deb" stroke-width="1.5" stroke-linejoin="round"/><polygon points="433.2,117.0 430.6,121.5 425.4,121.5 422.8,117.0 425.4,112.5 430.6,112.5" fill="#b4e1fa" stroke="#6cbbf2" stroke-width="1" stroke-linejoin="round"/><polygon points="431.9,117.0 429.9,120.3 426.1,120.3 424.1,117.0 426.1,113.7 429.9,113.7" fill="#9fd5f6"/>
<polygon points="433.1,147.0 424.5,161.8 407.5,161.8 398.9,147.0 407.5,132.2 424.5,132.2" fill="#3497e9" stroke="#3a9deb" stroke-width="1.5" stroke-linejoin="round"/><polygon points="427.6,147.0 421.8,157.0 410.2,157.0 404.4,147.0 410.2,137.0 421.8,137.0" fill="#b4e1fa" stroke="#6cbbf2" stroke-width="1" stroke-linejoin="round"/><polygon points="424.5,147.0 420.3,154.4 411.7,154.4 407.5,147.0 411.7,139.6 420.3,139.6" fill="#9fd5f6"/>
<polygon points="413.1,170.4 405.4,181.1 392.2,179.7 386.9,167.6 394.6,156.9 407.8,158.3" fill="#3497e9" stroke="#3a9deb" stroke-width="1.5" stroke-linejoin="round"/><polygon points="408.9,169.9 403.7,177.2 394.7,176.3 391.1,168.1 396.3,160.8 405.3,161.7" fill="#b4e1fa" stroke="#6cbbf2" stroke-width="1" stroke-linejoin="round"/><polygon points="406.6,169.7 402.7,175.0 396.1,174.3 393.4,168.3 397.3,163.0 403.9,163.7" fill="#9fd5f6"/>
<polygon points="440.5,191.1 430.0,197.1 419.5,191.1 419.5,178.9 430.0,172.9 440.5,178.9" fill="#3497e9" stroke="#3a9deb" stroke-width="1.5" stroke-linejoin="round"/><polygon points="437.1,189.1 430.0,193.2 422.9,189.1 422.9,180.9 430.0,176.8 437.1,180.9" fill="#b4e1fa" stroke="#6cbbf2" stroke-width="1" stroke-linejoin="round"/><polygon points="435.2,188.0 430.0,191.1 424.8,188.0 424.8,182.0 430.0,178.9 435.2,182.0" fill="#9fd5f6"/>
<polygon points="427.2,211.3 421.9,225.8 406.7,228.5 396.8,216.7 402.1,202.2 417.3,199.5" fill="#3497e9" stroke="#3a9deb" stroke-width="1.5" stroke-linejoin="round"/><polygon points="422.3,212.2 418.7,222.0 408.4,223.8 401.7,215.8 405.3,206.0 415.6,204.2" fill="#b4e1fa" stroke="#6cbbf2" stroke-width="1" stroke-linejoin="round"/><polygon points="419.6,212.7 416.9,219.9 409.4,221.2 404.4,215.3 407.1,208.1 414.6,206.8" fill="#9fd5f6"/>
<polygon points="407.7,234.7 401.4,242.3 391.6,240.6 388.3,231.3 394.6,223.7 404.4,225.4" fill="#3497e9" stroke="#3a9deb" stroke-width="1.5" stroke-linejoin="round"/><polygon points="404.6,234.2 400.3,239.3 393.7,238.2 391.4,231.8 395.7,226.7 402.3,227.8" fill="#b4e1fa" stroke="#6cbbf2" stroke-width="1" stroke-linejoin="round"/><polygon points="402.9,233.9 399.7,237.7 394.8,236.8 393.1,232.1 396.3,228.3 401.2,229.2" fill="#9fd5f6"/>
<polygon points="422.4,276.1 410.0,283.3 397.6,276.1 397.6,261.9 410.0,254.7 422.4,261.8" fill="#3497e9" stroke="#3a9deb" stroke-width="1.5" stroke-linejoin="round"/><polygon points="418.4,273.9 410.0,278.7 401.6,273.9 401.6,264.1 410.0,259.3 418.4,264.1" fill="#b4e1fa" stroke="#6cbbf2" stroke-width="1" stroke-linejoin="round"/><polygon points="416.2,272.6 410.0,276.1 403.8,272.6 403.8,265.4 410.0,261.9 416.2,265.4" fill="#9fd5f6"/>
<polygon points="406.4,299.1 394.0,306.3 381.6,299.1 381.6,284.9 394.0,277.7 406.4,284.8" fill="#3497e9" stroke="#3a9deb" stroke-width="1.5" stroke-linejoin="round"/><polygon points="402.4,296.9 394.0,301.7 385.6,296.9 385.6,287.1 394.0,282.3 402.4,287.1" fill="#b4e1fa" stroke="#6cbbf2" stroke-width="1" stroke-linejoin="round"/><polygon points="400.2,295.6 394.0,299.1 387.8,295.6 387.8,288.4 394.0,284.9 400.2,288.4" fill="#9fd5f6"/>
<polygon points="425.8,311.9 418.8,320.3 407.9,318.4 404.2,308.1 411.2,299.7 422.1,301.6" fill="#3497e9" stroke="#3a9deb" stroke-width="1.5" stroke-linejoin="round"/><polygon points="422.4,311.3 417.6,317.0 410.2,315.7 407.6,308.7 412.4,303.0 419.8,304.3" fill="#b4e1fa" stroke="#6cbbf2" stroke-width="1" stroke-linejoin="round"/><polygon points="420.4,311.0 416.9,315.2 411.5,314.2 409.6,309.0 413.1,304.8 418.5,305.8" fill="#9fd5f6"/>
<polygon points="409.2,367.5 403.4,380.6 389.2,382.1 380.8,370.5 386.6,357.4 400.8,355.9" fill="#3497e9" stroke="#3a9deb" stroke-width="1.5" stroke-linejoin="round"/><polygon points="404.7,368.0 400.7,376.9 391.0,377.9 385.3,370.0 389.3,361.1 399.0,360.1" fill="#b4e1fa" stroke="#6cbbf2" stroke-width="1" stroke-linejoin="round"/><polygon points="402.1,368.3 399.2,374.8 392.1,375.5 387.9,369.7 390.8,363.2 397.9,362.5" fill="#9fd5f6"/>
<polygon points="429.3,403.6 420.3,416.1 404.9,414.5 398.7,400.4 407.7,387.9 423.1,389.5" fill="#3497e9" stroke="#3a9deb" stroke-width="1.5" stroke-linejoin="round"/><polygon points="424.4,403.1 418.3,411.6 407.8,410.5 403.6,400.9 409.7,392.4 420.2,393.5" fill="#b4e1fa" stroke="#6cbbf2" stroke-width="1" stroke-linejoin="round"/><polygon points="421.7,402.8 417.1,409.0 409.5,408.2 406.3,401.2 410.9,395.0 418.5,395.8" fill="#9fd5f6"/>
<polygon points="412.3,426.0 405.1,438.4 390.9,438.4 383.7,426.0 390.8,413.6 405.1,413.6" fill="#3497e9" stroke="#3a9deb" stroke-width="1.5" stroke-linejoin="round"/><polygon points="407.7,426.0 402.9,434.4 393.1,434.4 388.3,426.0 393.1,417.6 402.9,417.6" fill="#b4e1fa" stroke="#6cbbf2" stroke-width="1" stroke-linejoin="round"/><polygon points="405.1,426.0 401.6,432.2 394.4,432.2 390.9,426.0 394.4,419.8 401.6,419.8" fill="#9fd5f6"/>
<polygon points="420.2,469.5 411.8,481.1 397.6,479.6 391.8,466.5 400.2,454.9 414.4,456.4" fill="#3497e9" stroke="#3a9deb" stroke-width="1.5" stroke-linejoin="round"/><polygon points="415.7,469.0 410.0,476.9 400.3,475.9 396.3,467.0 402.0,459.1 411.7,460.1" fill="#b4e1fa" stroke="#6cbbf2" stroke-width="1" stroke-linejoin="round"/><polygon points="413.1,468.7 408.9,474.5 401.8,473.8 398.9,467.3 403.1,461.5 410.2,462.2" fill="#9fd5f6"/>
<polygon points="409.4,519.0 401.7,532.3 386.3,532.3 378.6,519.0 386.3,505.7 401.7,505.7" fill="#3497e9" stroke="#3a9deb" stroke-width="1.5" stroke-linejoin="round"/><polygon points="404.5,519.0 399.2,528.1 388.8,528.1 383.5,519.0 388.8,509.9 399.2,509.9" fill="#b4e1fa" stroke="#6cbbf2" stroke-width="1" stroke-linejoin="round"/><polygon points="401.7,519.0 397.9,525.7 390.1,525.7 386.3,519.0 390.1,512.3 397.9,512.3" fill="#9fd5f6"/>
<polygon points="402.0,543.7 397.1,554.8 385.1,556.1 378.0,546.3 382.9,535.2 394.9,533.9" fill="#3497e9" stroke="#3a9deb" stroke-width="1.5" stroke-linejoin="round"/><polygon points="398.2,544.1 394.8,551.7 386.7,552.5 381.8,545.9 385.2,538.3 393.3,537.5" fill="#b4e1fa" stroke="#6cbbf2" stroke-width="1" stroke-linejoin="round"/><polygon points="396.0,544.4 393.6,549.9 387.5,550.5 384.0,545.6 386.4,540.1 392.5,539.5" fill="#9fd5f6"/>
<polygon points="430.4,573.6 419.0,580.2 407.6,573.6 407.6,560.4 419.0,553.8 430.4,560.4" fill="#3497e9" stroke="#3a9deb" stroke-width="1.5" stroke-linejoin="round"/><polygon points="426.8,571.5 419.0,576.0 411.2,571.5 411.2,562.5 419.0,558.0 426.8,562.5" fill="#b4e1fa" stroke="#6cbbf2" stroke-width="1" stroke-linejoin="round"/><polygon points="424.7,570.3 419.0,573.6 413.3,570.3 413.3,563.7 419.0,560.4 424.7,563.7" fill="#9fd5f6"/>
<polygon points="403.9,601.1 396.1,610.4 384.2,608.3 380.1,596.9 387.9,587.6 399.8,589.7" fill="#3497e9" stroke="#3a9deb" stroke-width="1.5" stroke-linejoin="round"/><polygon points="400.1,600.4 394.8,606.7 386.7,605.3 383.9,597.6 389.2,591.3 397.3,592.7" fill="#b4e1fa" stroke="#6cbbf2" stroke-width="1" stroke-linejoin="round"/><polygon points="398.0,600.1 394.1,604.7 388.1,603.6 386.0,597.9 389.9,593.3 395.9,594.4" fill="#9fd5f6"/>
<polygon points="429.4,648.6 418.0,655.2 406.6,648.6 406.6,635.4 418.0,628.8 429.4,635.4" fill="#3497e9" stroke="#3a9deb" stroke-width="1.5" stroke-linejoin="round"/><polygon points="425.8,646.5 418.0,651.0 410.2,646.5 410.2,637.5 418.0,633.0 425.8,637.5" fill="#b4e1fa" stroke="#6cbbf2" stroke-width="1" stroke-linejoin="round"/><polygon points="423.7,645.3 418.0,648.6 412.3,645.3 412.3,638.7 418.0,635.4 423.7,638.7" fill="#9fd5f6"/>
</g>
<g filter="url(#soft2)">
<path d="M115,251 L200,464" stroke="#a4aac6" stroke-width="2.2" fill="none"/><circle cx="200" cy="464" r="5.5" fill="#93a6c8"/>
<path d="M117,410 L199,652" stroke="#a4aac6" stroke-width="2.2" fill="none"/><circle cx="199" cy="652" r="5.5" fill="#93a6c8"/>
<path d="M546.5,67.8 L678.5,82" stroke="#f2f2f2" stroke-width="2.4" fill="none"/><circle cx="546.5" cy="67.8" r="5" fill="#fff"/>
<path d="M409,182 L661,217" stroke="#f2f2f2" stroke-width="2.4" fill="none"/><circle cx="409" cy="182" r="5" fill="#fff"/>
<path d="M505.5,367 L666.6,363.4" stroke="#f2f2f2" stroke-width="2.4" fill="none"/><circle cx="505.5" cy="367" r="5" fill="#fff"/>
<text class="lab" x="688" y="78.4">Skin and</text><text class="lab" x="688" y="104.9">Particle</text><text class="lab" x="688" y="131.8">Debris</text>
<text class="lab" x="675.5" y="200.8">Aluminum-</text><text class="lab" x="675.5" y="227.8">oxide</text><text class="lab" x="676" y="254.4">Particle</text><text class="lab" x="676" y="281.3">Beam</text>
<text class="lab" x="675.4" y="359.6">Suction</text><text class="lab" x="675.4" y="385.6">Path</text>
<text class="labl" x="52" y="214.5" textLength="110" lengthAdjust="spacingAndGlyphs">STRATUM</text><text class="labl" x="49" y="238.4" textLength="116.8" lengthAdjust="spacingAndGlyphs">CORNEUM</text>
<text class="labl" x="12.3" y="372.7" textLength="114.7" lengthAdjust="spacingAndGlyphs">NEW SKIN</text><text class="labl" x="55.5" y="397.5" textLength="69.5" lengthAdjust="spacingAndGlyphs">LAYER</text>
<text class="copy" transform="translate(14,614) rotate(90)">©2005 HowStuffWorks</text>
</g>
<rect x="0" y="861" width="822" height="15" fill="#29284f"/>
</svg></body></html>
